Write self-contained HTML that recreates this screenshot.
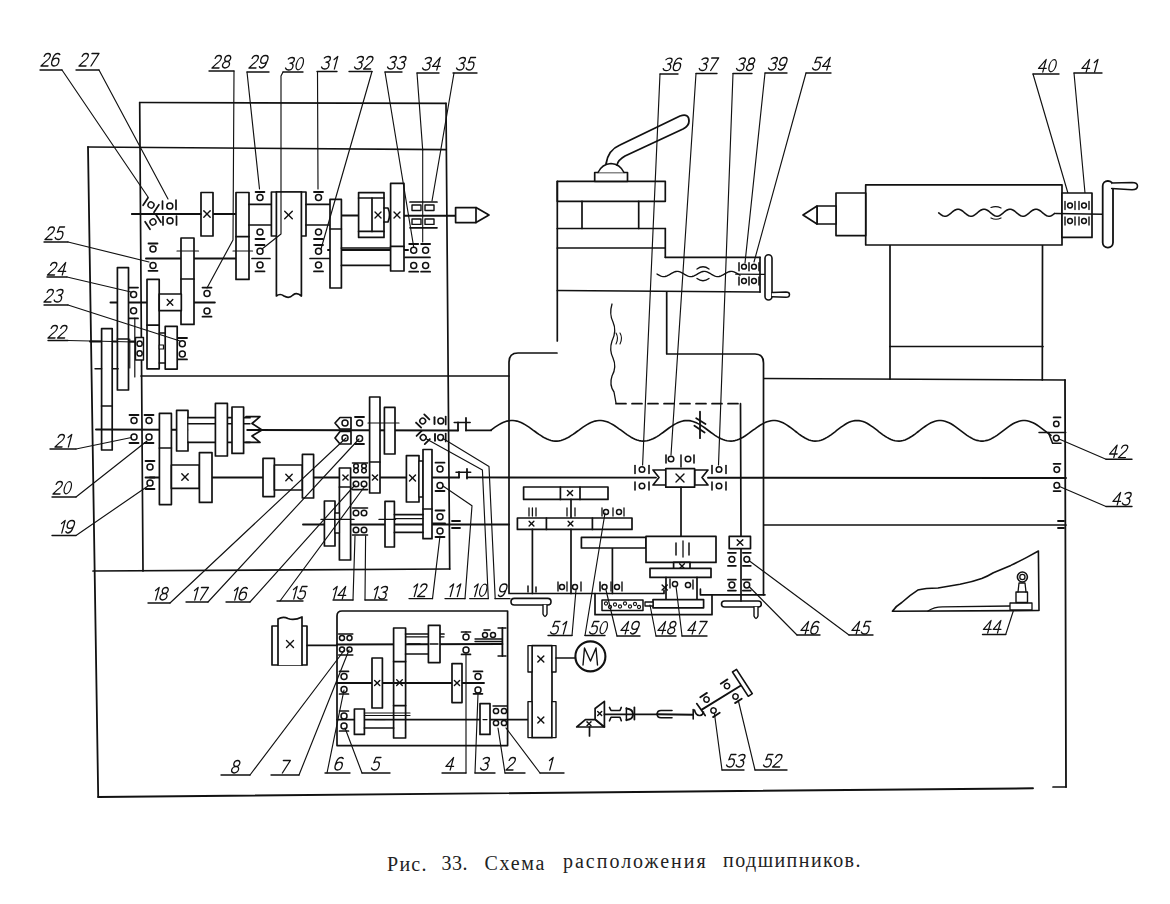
<!DOCTYPE html>
<html><head><meta charset="utf-8"><style>
html,body{margin:0;padding:0;background:#fff;}
svg{display:block;}
.lb{font-family:"Liberation Sans",sans-serif;font-style:italic;fill:#000;stroke:none;}
.cap{font-family:"Liberation Serif",serif;fill:#222;stroke:none;}
</style></head><body>
<svg width="1170" height="904" viewBox="0 0 1170 904">
<rect x="0" y="0" width="1170" height="904" fill="#fff"/>
<g stroke="#111" fill="none" stroke-linecap="round" stroke-linejoin="round">
<line x1="139.7" y1="102.5" x2="446" y2="103.3" stroke-width="1.7"/>
<line x1="139.7" y1="102.5" x2="143" y2="571" stroke-width="1.7"/>
<line x1="446" y1="103.3" x2="449.7" y2="569" stroke-width="1.7"/>
<line x1="88" y1="147" x2="446" y2="149.7" stroke-width="1.7"/>
<line x1="88" y1="147" x2="98.2" y2="797" stroke-width="1.8"/>
<line x1="98.2" y1="797" x2="1033" y2="788.3" stroke-width="1.9"/>
<line x1="1053" y1="787" x2="1066" y2="787" stroke-width="1.7"/>
<line x1="1065" y1="380" x2="1066" y2="787" stroke-width="1.8"/>
<line x1="141" y1="376" x2="509" y2="376" stroke-width="1.7"/>
<line x1="93" y1="571" x2="449.7" y2="569" stroke-width="1.7"/>
<line x1="764" y1="378.5" x2="1065" y2="380" stroke-width="1.7"/>
<line x1="764" y1="525" x2="1066" y2="525" stroke-width="1.7"/>
<line x1="132" y1="214" x2="236" y2="214" stroke-width="2.0"/>
<line x1="341" y1="215.4" x2="358.6" y2="215.4" stroke-width="2.0"/>
<line x1="404" y1="215.8" x2="455.6" y2="215.8" stroke-width="2.0"/>
<line x1="146" y1="258.5" x2="236" y2="258.5" stroke-width="2.0"/>
<line x1="328" y1="250" x2="408" y2="250" stroke-width="2"/>
<line x1="405" y1="257.4" x2="430" y2="257.4" stroke-width="1.7"/>
<line x1="110.5" y1="302.6" x2="214.8" y2="302.6" stroke-width="2.0"/>
<line x1="90" y1="341.5" x2="141" y2="341.5" stroke-width="1.9"/>
<rect x="201" y="192.5" width="12" height="43.5" stroke-width="1.7" fill="#fff"/>
<line x1="203.8" y1="210.8" x2="210.2" y2="217.2" stroke-width="1.4"/>
<line x1="203.8" y1="217.2" x2="210.2" y2="210.8" stroke-width="1.4"/>
<rect x="236" y="192.5" width="13" height="86.9" stroke-width="1.7" fill="#fff"/>
<line x1="236" y1="236.6" x2="249" y2="236.6" stroke-width="1.7"/>
<line x1="233" y1="251" x2="252.5" y2="251" stroke-width="1.2"/>
<line x1="249" y1="204.4" x2="271.4" y2="204.4" stroke-width="1.7"/>
<line x1="249" y1="225" x2="271.4" y2="225" stroke-width="1.7"/>
<rect x="271.4" y="192" width="34.6" height="44" stroke-width="1.7" fill="#fff"/>
<path d="M276.4,192 L276.4,296 Q280,293 284,296 Q289,299 293,295 Q297,292 301.4,296 L301.4,192" stroke-width="1.7" fill="#fff"/>
<line x1="276.4" y1="192" x2="301.4" y2="192" stroke-width="1.7"/>
<line x1="284.7" y1="211.2" x2="292.3" y2="218.8" stroke-width="1.4"/>
<line x1="284.7" y1="218.8" x2="292.3" y2="211.2" stroke-width="1.4"/>
<line x1="255.6" y1="192" x2="264.4" y2="192" stroke-width="1.8"/>
<circle cx="260" cy="197.4" r="3" stroke-width="1.5" fill="#fff"/>
<line x1="314" y1="192" x2="323" y2="192" stroke-width="1.8"/>
<circle cx="318.5" cy="197.4" r="3" stroke-width="1.5" fill="#fff"/>
<line x1="306" y1="204.4" x2="330" y2="204.4" stroke-width="1.7"/>
<line x1="306" y1="225" x2="330" y2="225" stroke-width="1.7"/>
<circle cx="260" cy="232" r="3" stroke-width="1.5" fill="#fff"/>
<line x1="255.5" y1="239" x2="264.5" y2="239" stroke-width="1.8"/>
<line x1="255.5" y1="245" x2="264.5" y2="245" stroke-width="1.8"/>
<circle cx="260" cy="251.2" r="3" stroke-width="1.5" fill="#fff"/>
<circle cx="260" cy="265" r="3" stroke-width="1.5" fill="#fff"/>
<line x1="255.5" y1="271.4" x2="264.5" y2="271.4" stroke-width="1.8"/>
<circle cx="318.5" cy="232" r="3" stroke-width="1.5" fill="#fff"/>
<line x1="314" y1="239" x2="323" y2="239" stroke-width="1.8"/>
<line x1="314" y1="245" x2="323" y2="245" stroke-width="1.8"/>
<circle cx="318.5" cy="251.2" r="3" stroke-width="1.5" fill="#fff"/>
<circle cx="318.5" cy="265" r="3" stroke-width="1.5" fill="#fff"/>
<line x1="314" y1="271.4" x2="323" y2="271.4" stroke-width="1.8"/>
<line x1="252" y1="258.5" x2="270" y2="258.5" stroke-width="1.7"/>
<line x1="310" y1="258.5" x2="330" y2="258.5" stroke-width="1.7"/>
<rect x="330" y="199.4" width="11.4" height="88.6" stroke-width="1.7" fill="#fff"/>
<line x1="330" y1="229" x2="341.4" y2="229" stroke-width="1.7"/>
<rect x="358.6" y="192.6" width="25.4" height="44.8" stroke-width="1.7" fill="#fff"/>
<line x1="358.6" y1="198" x2="384" y2="198" stroke-width="1.7"/>
<line x1="358.6" y1="231.4" x2="384" y2="231.4" stroke-width="1.7"/>
<line x1="372" y1="198" x2="372" y2="231.4" stroke-width="1.7"/>
<line x1="375" y1="212" x2="381" y2="218" stroke-width="1.4"/>
<line x1="375" y1="218" x2="381" y2="212" stroke-width="1.4"/>
<path d="M384,208 L388,208 Q391,215 388,222 L384,222" stroke-width="1.7" fill="none"/>
<line x1="341.4" y1="248" x2="390.6" y2="248" stroke-width="1.7"/>
<line x1="341.4" y1="265.4" x2="390.6" y2="265.4" stroke-width="1.7"/>
<rect x="390.6" y="183.4" width="13.4" height="87.6" stroke-width="1.7" fill="#fff"/>
<line x1="390.6" y1="246.4" x2="404" y2="246.4" stroke-width="1.7"/>
<line x1="394" y1="212" x2="400" y2="218" stroke-width="1.4"/>
<line x1="394" y1="218" x2="400" y2="212" stroke-width="1.4"/>
<line x1="410" y1="202" x2="437" y2="202" stroke-width="1.7"/>
<line x1="410" y1="227.8" x2="437" y2="227.8" stroke-width="1.7"/>
<rect x="412" y="205" width="9" height="5.5" stroke-width="1.4" fill="#fff"/>
<rect x="412" y="219" width="9" height="5.4" stroke-width="1.4" fill="#fff"/>
<rect x="425" y="205" width="9" height="5.5" stroke-width="1.4" fill="#fff"/>
<rect x="425" y="219" width="9" height="5.4" stroke-width="1.4" fill="#fff"/>
<line x1="422.7" y1="150" x2="422.7" y2="242" stroke-width="1.1"/>
<line x1="409.2" y1="244" x2="418.2" y2="244" stroke-width="1.8"/>
<circle cx="413.7" cy="250.2" r="3" stroke-width="1.5" fill="#fff"/>
<circle cx="413.7" cy="265.4" r="3" stroke-width="1.5" fill="#fff"/>
<line x1="409.2" y1="271.7" x2="418.2" y2="271.7" stroke-width="1.8"/>
<line x1="421.1" y1="244" x2="430.1" y2="244" stroke-width="1.8"/>
<circle cx="425.6" cy="250.2" r="3" stroke-width="1.5" fill="#fff"/>
<circle cx="425.6" cy="265.4" r="3" stroke-width="1.5" fill="#fff"/>
<line x1="421.1" y1="271.7" x2="430.1" y2="271.7" stroke-width="1.8"/>
<rect x="455.6" y="207.6" width="20.4" height="15" stroke-width="1.7" fill="#fff"/>
<polyline points="476,207.6 489,215 476,222.6" stroke-width="1.7"/>
<line x1="132" y1="214" x2="201" y2="214" stroke-width="1.7"/>
<g transform="translate(151,205) rotate(33)"><line x1="-6.5" y1="-4.5" x2="-6.5" y2="4.5" stroke-width="1.7"/><circle cx="0" cy="0" r="3" stroke-width="1.4" fill="#fff"/><line x1="6.5" y1="-4.5" x2="6.5" y2="4.5" stroke-width="1.7"/></g>
<line x1="162.5" y1="201" x2="162.5" y2="209" stroke-width="1.7"/>
<circle cx="169.8" cy="206" r="3" stroke-width="1.5" fill="#fff"/>
<line x1="176" y1="200" x2="176" y2="209.5" stroke-width="1.7"/>
<g transform="translate(153,222) rotate(-33)"><line x1="-6.5" y1="-4.5" x2="-6.5" y2="4.5" stroke-width="1.7"/><circle cx="0" cy="0" r="3" stroke-width="1.4" fill="#fff"/><line x1="6.5" y1="-4.5" x2="6.5" y2="4.5" stroke-width="1.7"/></g>
<line x1="163" y1="216.5" x2="163" y2="225" stroke-width="1.7"/>
<circle cx="170" cy="220.8" r="3" stroke-width="1.5" fill="#fff"/>
<line x1="176.5" y1="216" x2="176.5" y2="225" stroke-width="1.7"/>
<circle cx="153" cy="249" r="3" stroke-width="1.5" fill="#fff"/>
<line x1="148.5" y1="243.5" x2="157.5" y2="243.5" stroke-width="1.8"/>
<circle cx="153" cy="265.4" r="3" stroke-width="1.5" fill="#fff"/>
<line x1="148.5" y1="270.8" x2="157.5" y2="270.8" stroke-width="1.8"/>
<rect x="181" y="238" width="13" height="86.4" stroke-width="1.7" fill="#fff"/>
<line x1="181" y1="279" x2="194" y2="279" stroke-width="1.7"/>
<line x1="177" y1="251" x2="198.5" y2="251" stroke-width="1.2"/>
<rect x="117.4" y="267.6" width="11.1" height="122.4" stroke-width="1.7" fill="#fff"/>
<line x1="117.4" y1="339" x2="128.5" y2="339" stroke-width="1.7"/>
<rect x="147" y="279.4" width="12.2" height="89.4" stroke-width="1.7" fill="#fff"/>
<line x1="147" y1="325.2" x2="159.2" y2="325.2" stroke-width="1.7"/>
<rect x="159.2" y="294" width="22.1" height="16.7" stroke-width="1.7" fill="#fff"/>
<line x1="167.2" y1="299.6" x2="172.8" y2="305.2" stroke-width="1.4"/>
<line x1="167.2" y1="305.2" x2="172.8" y2="299.6" stroke-width="1.4"/>
<line x1="129" y1="287.6" x2="138" y2="287.6" stroke-width="1.8"/>
<circle cx="133.6" cy="294.4" r="3" stroke-width="1.5" fill="#fff"/>
<circle cx="133.6" cy="310.7" r="3" stroke-width="1.5" fill="#fff"/>
<line x1="129" y1="318.4" x2="138" y2="318.4" stroke-width="1.8"/>
<line x1="202.5" y1="287.6" x2="211.5" y2="287.6" stroke-width="1.8"/>
<circle cx="207" cy="293.6" r="3" stroke-width="1.5" fill="#fff"/>
<circle cx="207" cy="311" r="3" stroke-width="1.5" fill="#fff"/>
<line x1="202.5" y1="316.7" x2="211.5" y2="316.7" stroke-width="1.8"/>
<rect x="101.6" y="328.6" width="10.6" height="121.4" stroke-width="1.7" fill="#fff"/>
<line x1="101.6" y1="406" x2="112.2" y2="406" stroke-width="1.7"/>
<line x1="95" y1="368.8" x2="101.6" y2="368.8" stroke-width="1.4"/>
<line x1="112.4" y1="368.8" x2="118.2" y2="368.8" stroke-width="1.4"/>
<rect x="165.2" y="326.4" width="12" height="42.7" stroke-width="1.7" fill="#fff"/>
<line x1="159.2" y1="333" x2="165.2" y2="333" stroke-width="1.3"/>
<line x1="159.2" y1="363" x2="165.2" y2="363" stroke-width="1.3"/>
<rect x="159.2" y="345" width="4.3" height="4" stroke-width="1.2" fill="#fff"/>
<line x1="178" y1="338" x2="187" y2="338" stroke-width="1.8"/>
<circle cx="182.3" cy="343.7" r="3" stroke-width="1.5" fill="#fff"/>
<circle cx="182.3" cy="354" r="3" stroke-width="1.5" fill="#fff"/>
<line x1="178" y1="359.4" x2="187" y2="359.4" stroke-width="1.8"/>
<rect x="135.5" y="337.5" width="8" height="22.5" stroke-width="1.4" fill="#fff"/>
<circle cx="139.6" cy="343.7" r="2.6" stroke-width="1.5" fill="#fff"/>
<circle cx="139.6" cy="353.4" r="2.6" stroke-width="1.5" fill="#fff"/>
<line x1="134.8" y1="318" x2="134.8" y2="377" stroke-width="1.2"/>
<line x1="129.8" y1="339" x2="129.8" y2="368" stroke-width="1.1"/>
<line x1="96" y1="429.5" x2="458" y2="430.4" stroke-width="2.0"/>
<line x1="458" y1="422.4" x2="458" y2="430.4" stroke-width="1.8"/>
<line x1="466" y1="418" x2="466" y2="430.4" stroke-width="1.8"/>
<line x1="454.2" y1="422.4" x2="470.2" y2="422.4" stroke-width="1.5"/>
<line x1="466" y1="430.4" x2="491" y2="430.4" stroke-width="1.9"/>
<line x1="150" y1="477.5" x2="459" y2="477.4" stroke-width="2.0"/>
<line x1="459" y1="471.8" x2="459" y2="477.4" stroke-width="1.8"/>
<line x1="467" y1="469" x2="467" y2="478.5" stroke-width="1.8"/>
<line x1="456" y1="472.3" x2="470.7" y2="472.3" stroke-width="1.5"/>
<line x1="467" y1="477.4" x2="656" y2="477.6" stroke-width="1.9"/>
<line x1="303" y1="524.5" x2="509" y2="524.5" stroke-width="1.9"/>
<line x1="452" y1="521" x2="460" y2="521" stroke-width="1.8"/>
<line x1="452" y1="528" x2="460" y2="528" stroke-width="1.8"/>
<line x1="129.5" y1="415" x2="138.5" y2="415" stroke-width="1.8"/>
<circle cx="134" cy="420.5" r="3" stroke-width="1.5" fill="#fff"/>
<circle cx="134" cy="437" r="3" stroke-width="1.5" fill="#fff"/>
<line x1="129.5" y1="443" x2="138.5" y2="443" stroke-width="1.8"/>
<line x1="144.5" y1="415" x2="153.5" y2="415" stroke-width="1.8"/>
<circle cx="149" cy="420.5" r="3" stroke-width="1.5" fill="#fff"/>
<circle cx="149" cy="437" r="3" stroke-width="1.5" fill="#fff"/>
<line x1="144.5" y1="443" x2="153.5" y2="443" stroke-width="1.8"/>
<rect x="159.4" y="413.4" width="12" height="91.2" stroke-width="1.7" fill="#fff"/>
<line x1="159.4" y1="448" x2="171.4" y2="448" stroke-width="1.7"/>
<rect x="176.6" y="410.4" width="11.4" height="40.6" stroke-width="1.7" fill="#fff"/>
<rect x="188.5" y="418" width="58" height="23.5" fill="#fff" stroke="none"/>
<line x1="188" y1="417.7" x2="250" y2="417.7" stroke-width="1.7"/>
<line x1="188" y1="423.8" x2="250" y2="423.8" stroke-width="1.4"/>
<line x1="188" y1="442.3" x2="250" y2="442.3" stroke-width="1.7"/>
<rect x="215.4" y="403.4" width="12" height="52.6" stroke-width="1.7" fill="#fff"/>
<rect x="232" y="407" width="11.6" height="46.4" stroke-width="1.7" fill="#fff"/>
<polyline points="246,416.6 260,416.6 252,423.5 262,430 252,436 260,442.4 246,442.4" stroke-width="1.7"/>
<line x1="145.5" y1="461" x2="154.5" y2="461" stroke-width="1.8"/>
<circle cx="150" cy="467" r="3" stroke-width="1.5" fill="#fff"/>
<line x1="145.5" y1="477.5" x2="154.5" y2="477.5" stroke-width="1.8"/>
<circle cx="150" cy="483" r="3" stroke-width="1.5" fill="#fff"/>
<line x1="145.5" y1="489" x2="154.5" y2="489" stroke-width="1.8"/>
<rect x="171.4" y="465" width="28" height="23.4" stroke-width="1.7" fill="#fff"/>
<line x1="181.8" y1="473.8" x2="188.2" y2="480.2" stroke-width="1.4"/>
<line x1="181.8" y1="480.2" x2="188.2" y2="473.8" stroke-width="1.4"/>
<rect x="199.4" y="452.6" width="12.6" height="49.8" stroke-width="1.7" fill="#fff"/>
<rect x="263" y="458.4" width="11.4" height="38.2" stroke-width="1.7" fill="#fff"/>
<rect x="274.4" y="465" width="28" height="25" stroke-width="1.7" fill="#fff"/>
<line x1="285.8" y1="474.3" x2="292.2" y2="480.7" stroke-width="1.4"/>
<line x1="285.8" y1="480.7" x2="292.2" y2="474.3" stroke-width="1.4"/>
<rect x="302.4" y="454.4" width="11.2" height="43.6" stroke-width="1.7" fill="#fff"/>
<rect x="339.4" y="468" width="11.2" height="92" stroke-width="1.7" fill="#fff"/>
<line x1="339.4" y1="487" x2="350.6" y2="487" stroke-width="1.7"/>
<line x1="342.9" y1="474.9" x2="348.1" y2="480.1" stroke-width="1.4"/>
<line x1="342.9" y1="480.1" x2="348.1" y2="474.9" stroke-width="1.4"/>
<rect x="369.6" y="397" width="10.4" height="96" stroke-width="1.7" fill="#fff"/>
<line x1="369.6" y1="462" x2="380" y2="462" stroke-width="1.7"/>
<line x1="372.4" y1="474.9" x2="377.6" y2="480.1" stroke-width="1.4"/>
<line x1="372.4" y1="480.1" x2="377.6" y2="474.9" stroke-width="1.4"/>
<rect x="384.4" y="407.4" width="10.6" height="46.6" stroke-width="1.7" fill="#fff"/>
<line x1="368" y1="423" x2="399" y2="423" stroke-width="1.2"/>
<rect x="406.4" y="455.6" width="12.6" height="46.4" stroke-width="1.7" fill="#fff"/>
<line x1="409.5" y1="475" x2="415.5" y2="481" stroke-width="1.4"/>
<line x1="409.5" y1="481" x2="415.5" y2="475" stroke-width="1.4"/>
<rect x="419" y="461" width="4" height="36" stroke-width="1.3" fill="#fff"/>
<rect x="423" y="449.5" width="9" height="89.2" stroke-width="1.7" fill="#fff"/>
<line x1="423" y1="509" x2="432" y2="509" stroke-width="1.7"/>
<polygon points="335,423 340,417.5 351,417.5 351,429 340,429" stroke-width="1.7" fill="#fff"/>
<polygon points="335,438 340,431.5 351,431.5 351,444 340,444" stroke-width="1.7" fill="#fff"/>
<circle cx="345" cy="423" r="3" stroke-width="1.5" fill="#fff"/>
<circle cx="345" cy="438" r="3" stroke-width="1.5" fill="#fff"/>
<line x1="355" y1="417" x2="364" y2="417" stroke-width="1.8"/>
<circle cx="359.6" cy="423" r="3" stroke-width="1.5" fill="#fff"/>
<circle cx="359.6" cy="438.4" r="3" stroke-width="1.5" fill="#fff"/>
<line x1="355" y1="444" x2="364" y2="444" stroke-width="1.8"/>
<g transform="translate(422.7,421) rotate(-45)"><line x1="-5.8" y1="-3.6" x2="-5.8" y2="3.6" stroke-width="1.8"/><circle cx="0" cy="0" r="2.9" stroke-width="1.5" fill="#fff"/><line x1="5.8" y1="-3.6" x2="5.8" y2="3.6" stroke-width="1.8"/></g>
<g transform="translate(423.2,437.5) rotate(45)"><line x1="-5.8" y1="-3.6" x2="-5.8" y2="3.6" stroke-width="1.8"/><circle cx="0" cy="0" r="2.9" stroke-width="1.5" fill="#fff"/><line x1="5.8" y1="-3.6" x2="5.8" y2="3.6" stroke-width="1.8"/></g>
<line x1="434.5" y1="417.2" x2="434.5" y2="424" stroke-width="1.9"/>
<circle cx="440.8" cy="421" r="2.9" stroke-width="1.5" fill="#fff"/>
<line x1="445.7" y1="416.5" x2="445.7" y2="424.5" stroke-width="1.7"/>
<line x1="435" y1="434" x2="435" y2="440.7" stroke-width="1.9"/>
<circle cx="440.6" cy="437.5" r="2.9" stroke-width="1.5" fill="#fff"/>
<line x1="445.7" y1="433.5" x2="445.7" y2="441.5" stroke-width="1.7"/>
<line x1="352.5" y1="463" x2="359.5" y2="463" stroke-width="1.6"/>
<circle cx="356" cy="466" r="2.3" stroke-width="1.5" fill="#fff"/>
<circle cx="356" cy="470.6" r="2.3" stroke-width="1.5" fill="#fff"/>
<circle cx="356" cy="484" r="2.8" stroke-width="1.5" fill="#fff"/>
<line x1="352.5" y1="489.6" x2="359.5" y2="489.6" stroke-width="1.6"/>
<line x1="352.5" y1="508" x2="359.5" y2="508" stroke-width="1.6"/>
<circle cx="356" cy="513" r="2.8" stroke-width="1.5" fill="#fff"/>
<circle cx="356" cy="530" r="2.8" stroke-width="1.5" fill="#fff"/>
<line x1="352.5" y1="535" x2="359.5" y2="535" stroke-width="1.6"/>
<line x1="360.5" y1="463" x2="367.5" y2="463" stroke-width="1.6"/>
<circle cx="364" cy="466" r="2.3" stroke-width="1.5" fill="#fff"/>
<circle cx="364" cy="470.6" r="2.3" stroke-width="1.5" fill="#fff"/>
<circle cx="364" cy="484" r="2.8" stroke-width="1.5" fill="#fff"/>
<line x1="360.5" y1="489.6" x2="367.5" y2="489.6" stroke-width="1.6"/>
<line x1="360.5" y1="508" x2="367.5" y2="508" stroke-width="1.6"/>
<circle cx="364" cy="513" r="2.8" stroke-width="1.5" fill="#fff"/>
<circle cx="364" cy="530" r="2.8" stroke-width="1.5" fill="#fff"/>
<line x1="360.5" y1="535" x2="367.5" y2="535" stroke-width="1.6"/>
<rect x="324.4" y="501" width="10.6" height="45" stroke-width="1.7" fill="#fff"/>
<rect x="335" y="513" width="4.4" height="20" stroke-width="1.3" fill="#fff"/>
<rect x="385" y="501.4" width="9.4" height="45.6" stroke-width="1.7" fill="#fff"/>
<line x1="394.4" y1="514.6" x2="423" y2="514.6" stroke-width="1.7"/>
<line x1="394.4" y1="518.7" x2="423" y2="518.7" stroke-width="1.3"/>
<line x1="394.4" y1="532.4" x2="423" y2="532.4" stroke-width="1.7"/>
<line x1="321" y1="519.4" x2="354" y2="519.4" stroke-width="1.4"/>
<line x1="379" y1="519.4" x2="395.5" y2="519.4" stroke-width="1.4"/>
<line x1="435.5" y1="462.7" x2="444.5" y2="462.7" stroke-width="1.8"/>
<circle cx="440" cy="469" r="3" stroke-width="1.5" fill="#fff"/>
<circle cx="440" cy="485.5" r="3" stroke-width="1.5" fill="#fff"/>
<line x1="435.5" y1="491" x2="444.5" y2="491" stroke-width="1.8"/>
<line x1="435.5" y1="510.5" x2="444.5" y2="510.5" stroke-width="1.8"/>
<circle cx="440" cy="516.7" r="3" stroke-width="1.5" fill="#fff"/>
<line x1="433" y1="523.5" x2="445" y2="523.5" stroke-width="2"/>
<circle cx="440" cy="531" r="3" stroke-width="1.5" fill="#fff"/>
<line x1="435.5" y1="537" x2="444.5" y2="537" stroke-width="1.8"/>
<path d="M337,745.6 L337,616 Q337,611 342,611 L507.6,611 L507.6,745.6 Z" stroke-width="1.7" fill="none"/>
<rect x="272" y="626" width="35" height="39" stroke-width="1.7" fill="#fff"/>
<path d="M278,665 L278,619 Q283,616 288,618.5 Q294,621 302,617 L302,665" stroke-width="1.7" fill="#fff"/>
<line x1="286.5" y1="640.5" x2="293.5" y2="647.5" stroke-width="1.4"/>
<line x1="286.5" y1="647.5" x2="293.5" y2="640.5" stroke-width="1.4"/>
<line x1="307" y1="645.4" x2="337" y2="645.4" stroke-width="1.7"/>
<line x1="337" y1="644.5" x2="502.4" y2="644" stroke-width="1.9"/>
<line x1="502.4" y1="628" x2="502.4" y2="656" stroke-width="1.8"/>
<line x1="498" y1="628" x2="506" y2="628" stroke-width="1.4"/>
<line x1="498" y1="656" x2="506" y2="656" stroke-width="1.4"/>
<line x1="338.7" y1="634" x2="345.3" y2="634" stroke-width="1.6"/>
<circle cx="342" cy="638" r="2.5" stroke-width="1.5" fill="#fff"/>
<circle cx="342" cy="649.6" r="2.5" stroke-width="1.5" fill="#fff"/>
<line x1="338.7" y1="655" x2="345.3" y2="655" stroke-width="1.6"/>
<line x1="346.2" y1="634" x2="352.8" y2="634" stroke-width="1.6"/>
<circle cx="349.5" cy="638" r="2.5" stroke-width="1.5" fill="#fff"/>
<circle cx="349.5" cy="649.6" r="2.5" stroke-width="1.5" fill="#fff"/>
<line x1="346.2" y1="655" x2="352.8" y2="655" stroke-width="1.6"/>
<rect x="393.6" y="628" width="12" height="110" stroke-width="1.7" fill="#fff"/>
<line x1="393.6" y1="661.6" x2="405.6" y2="661.6" stroke-width="1.7"/>
<line x1="393.6" y1="705.6" x2="405.6" y2="705.6" stroke-width="1.7"/>
<line x1="396.7" y1="679.8" x2="402.3" y2="685.4" stroke-width="1.4"/>
<line x1="396.7" y1="685.4" x2="402.3" y2="679.8" stroke-width="1.4"/>
<line x1="405.6" y1="634" x2="444" y2="634" stroke-width="1.7"/>
<line x1="405.6" y1="636.8" x2="444" y2="636.8" stroke-width="1.2"/>
<line x1="405.6" y1="654" x2="428.4" y2="654" stroke-width="1.7"/>
<rect x="428.4" y="625.4" width="11.6" height="37.2" stroke-width="1.7" fill="#fff"/>
<line x1="408" y1="644" x2="420" y2="644" stroke-width="1.3"/>
<line x1="430" y1="644" x2="438" y2="644" stroke-width="1.3"/>
<line x1="466" y1="632" x2="466" y2="632" stroke-width="1.7"/>
<line x1="461.5" y1="632" x2="470.5" y2="632" stroke-width="1.7"/>
<circle cx="466" cy="637" r="3" stroke-width="1.5" fill="#fff"/>
<circle cx="466" cy="650" r="3" stroke-width="1.5" fill="#fff"/>
<line x1="461.5" y1="654.4" x2="470.5" y2="654.4" stroke-width="1.7"/>
<circle cx="485" cy="635" r="2.5" stroke-width="1.5" fill="#fff"/>
<circle cx="493" cy="635" r="2.5" stroke-width="1.5" fill="#fff"/>
<line x1="475" y1="639" x2="502" y2="639" stroke-width="1.3"/>
<line x1="475" y1="641.5" x2="502" y2="641.5" stroke-width="1.3"/>
<line x1="484" y1="630" x2="490" y2="630" stroke-width="1.5"/>
<line x1="337" y1="683" x2="484" y2="683" stroke-width="1.9"/>
<rect x="372" y="658" width="10.4" height="50" stroke-width="1.7" fill="#fff"/>
<line x1="374.6" y1="680.4" x2="379.8" y2="685.6" stroke-width="1.4"/>
<line x1="374.6" y1="685.6" x2="379.8" y2="680.4" stroke-width="1.4"/>
<rect x="452" y="663.6" width="10" height="39" stroke-width="1.7" fill="#fff"/>
<line x1="454.4" y1="680.4" x2="459.6" y2="685.6" stroke-width="1.4"/>
<line x1="454.4" y1="685.6" x2="459.6" y2="680.4" stroke-width="1.4"/>
<line x1="339.5" y1="671.4" x2="348.5" y2="671.4" stroke-width="1.7"/>
<circle cx="344" cy="676.6" r="3" stroke-width="1.5" fill="#fff"/>
<circle cx="344" cy="689.5" r="3" stroke-width="1.5" fill="#fff"/>
<line x1="339.5" y1="694" x2="348.5" y2="694" stroke-width="1.7"/>
<line x1="473.5" y1="671.4" x2="482.5" y2="671.4" stroke-width="1.7"/>
<circle cx="478" cy="676.4" r="3" stroke-width="1.5" fill="#fff"/>
<circle cx="478" cy="690" r="3" stroke-width="1.5" fill="#fff"/>
<line x1="473.5" y1="693.8" x2="482.5" y2="693.8" stroke-width="1.7"/>
<line x1="337" y1="719.6" x2="528" y2="719.6" stroke-width="1.9"/>
<rect x="354.4" y="709" width="10" height="25.4" stroke-width="1.7" fill="#fff"/>
<line x1="364.4" y1="713" x2="410" y2="713" stroke-width="1.2"/>
<line x1="364.4" y1="715.5" x2="410" y2="715.5" stroke-width="1.2"/>
<line x1="364.4" y1="728" x2="393.6" y2="728" stroke-width="1.7"/>
<line x1="375" y1="719.6" x2="385" y2="719.6" stroke-width="1"/>
<rect x="480" y="703.6" width="10" height="30.8" stroke-width="1.7" fill="#fff"/>
<line x1="483" y1="719.6" x2="487" y2="719.6" stroke-width="1.2"/>
<circle cx="496" cy="711" r="2.6" stroke-width="1.5" fill="#fff"/>
<circle cx="504" cy="711" r="2.6" stroke-width="1.5" fill="#fff"/>
<circle cx="496" cy="723" r="2.6" stroke-width="1.5" fill="#fff"/>
<circle cx="504" cy="723" r="2.6" stroke-width="1.5" fill="#fff"/>
<line x1="493" y1="706" x2="507" y2="706" stroke-width="1.3"/>
<line x1="339.5" y1="711" x2="348.5" y2="711" stroke-width="1.7"/>
<circle cx="344" cy="716" r="3" stroke-width="1.5" fill="#fff"/>
<circle cx="344" cy="726" r="3" stroke-width="1.5" fill="#fff"/>
<line x1="339.5" y1="731" x2="348.5" y2="731" stroke-width="1.7"/>
<rect x="532" y="645.6" width="20" height="92" stroke-width="1.7" fill="#fff"/>
<rect x="528" y="645.6" width="4" height="26.4" stroke-width="1.4" fill="#fff"/>
<rect x="552" y="645.6" width="4" height="26.4" stroke-width="1.4" fill="#fff"/>
<rect x="528" y="701.6" width="4" height="36" stroke-width="1.4" fill="#fff"/>
<rect x="552" y="701.6" width="4" height="36" stroke-width="1.4" fill="#fff"/>
<line x1="537.8" y1="656" x2="543.8" y2="662" stroke-width="1.4"/>
<line x1="537.8" y1="662" x2="543.8" y2="656" stroke-width="1.4"/>
<line x1="537.8" y1="717" x2="543.8" y2="723" stroke-width="1.4"/>
<line x1="537.8" y1="723" x2="543.8" y2="717" stroke-width="1.4"/>
<line x1="556" y1="658" x2="575.4" y2="658" stroke-width="1.7"/>
<circle cx="590.4" cy="656.4" r="15" stroke-width="2.1" fill="#fff"/>
<path d="M583,665 L584.5,648 L590.5,661 L596,648 L597.5,665" stroke-width="1.4" fill="none"/>
<g transform="translate(230.7,773) skewX(-15)" stroke-width="1.3" fill="none"><g transform="translate(0,0)"><ellipse cx="3.6" cy="-9.45" rx="2.9" ry="3.05"/><ellipse cx="3.5" cy="-3.3" rx="3.4" ry="3.3"/></g></g>
<line x1="221" y1="775" x2="250" y2="775" stroke-width="1.4"/>
<polyline points="250,775 344.5,650" stroke-width="1.15"/>
<g transform="translate(280,773) skewX(-15)" stroke-width="1.3" fill="none"><g transform="translate(0,0)"><path d="M0,-12.5 L7,-12.5 L2.4,0"/></g></g>
<line x1="271" y1="775" x2="299" y2="775" stroke-width="1.4"/>
<polyline points="299,775 349,650" stroke-width="1.15"/>
<g transform="translate(334,770) skewX(-15)" stroke-width="1.3" fill="none"><g transform="translate(0,0)"><path d="M6.2,-11.4 Q5.2,-12.5 3.6,-12.5 Q0,-12.5 0,-5 Q0,0 3.5,0 Q7,0 7,-4 Q7,-7.8 3.6,-7.8 Q0.6,-7.8 0,-4.6"/></g></g>
<line x1="325" y1="773" x2="350" y2="773" stroke-width="1.4"/>
<polyline points="327,773 344,690" stroke-width="1.15"/>
<g transform="translate(371,770) skewX(-15)" stroke-width="1.3" fill="none"><g transform="translate(0,0)"><path d="M6.6,-12.5 L1.6,-12.5 L0.9,-7.2 Q2.2,-8.1 3.8,-8.1 Q7,-8.1 7,-4 Q7,0 3.5,0 Q1,0 0,-2"/></g></g>
<line x1="362" y1="773" x2="390" y2="773" stroke-width="1.4"/>
<polyline points="362,773 345,728" stroke-width="1.15"/>
<g transform="translate(445,770) skewX(-15)" stroke-width="1.3" fill="none"><g transform="translate(0,0)"><path d="M5.2,0 L5.2,-12.5 L0,-3.6 L7.6,-3.6"/></g></g>
<line x1="442" y1="773" x2="466" y2="773" stroke-width="1.4"/>
<polyline points="466,773 466,654" stroke-width="1.15"/>
<g transform="translate(480,770) skewX(-15)" stroke-width="1.3" fill="none"><g transform="translate(0,0)"><path d="M0.4,-11 Q1.5,-12.5 3.6,-12.5 Q6.6,-12.5 6.6,-9.8 Q6.6,-7 3.2,-6.8 Q7,-6.6 7,-3.3 Q7,0 3.5,0 Q1,0 0,-2"/></g></g>
<line x1="475" y1="773" x2="495" y2="773" stroke-width="1.4"/>
<polyline points="475,773 478,694" stroke-width="1.15"/>
<g transform="translate(506,770) skewX(-15)" stroke-width="1.3" fill="none"><g transform="translate(0,0)"><path d="M0.6,-9.6 Q1,-12.5 3.6,-12.5 Q6.6,-12.5 6.6,-9.6 Q6.6,-7.2 3.6,-4.6 L0,0 L7,0"/></g></g>
<line x1="505" y1="773" x2="525" y2="773" stroke-width="1.4"/>
<polyline points="505,773 498,728" stroke-width="1.15"/>
<g transform="translate(546,770) skewX(-15)" stroke-width="1.3" fill="none"><g transform="translate(0,0)"><path d="M1,-9.5 L3.8,-12.5 L3.8,0"/></g></g>
<line x1="540" y1="773" x2="564" y2="773" stroke-width="1.4"/>
<polyline points="540,773 506,728" stroke-width="1.15"/>
<polygon points="576.7,727 585.4,719.7 595.1,719.7 604.4,727" stroke-width="1.7" fill="#fff"/>
<polygon points="595.1,708.5 604.4,701.3 604.4,727 595.1,719.2" stroke-width="1.7" fill="#fff"/>
<line x1="597.7" y1="711.6" x2="601.7" y2="715.6" stroke-width="1.4"/>
<line x1="597.7" y1="715.6" x2="601.7" y2="711.6" stroke-width="1.4"/>
<line x1="587" y1="721.8" x2="591" y2="725.8" stroke-width="1.4"/>
<line x1="587" y1="725.8" x2="591" y2="721.8" stroke-width="1.4"/>
<line x1="589.5" y1="727" x2="589.5" y2="736" stroke-width="1.7"/>
<line x1="604.4" y1="714.3" x2="657" y2="714.3" stroke-width="1.7"/>
<polyline points="609.5,707.4 611,710.5 620,710.5 621.3,707.4" stroke-width="1.6"/>
<polyline points="609.5,720.8 611,717.2 620,717.2 621.3,720.8" stroke-width="1.6"/>
<path d="M626.4,708.5 Q633,709 633,714.3 Q633,719.5 626.4,720" stroke-width="1.8" fill="none"/>
<line x1="626.4" y1="708" x2="626.4" y2="720.5" stroke-width="1.5"/>
<line x1="634.4" y1="707.5" x2="634.4" y2="719.5" stroke-width="1.8"/>
<line x1="657" y1="714.3" x2="693.2" y2="714.7" stroke-width="1.9"/>
<path d="M672,710.5 L661,710.5 Q657.2,710.5 657.2,714 Q657.2,717.7 661,717.7 L672,717.7" stroke-width="1.6" fill="none"/>
<line x1="693.2" y1="709.6" x2="693.2" y2="719" stroke-width="1.6"/>
<path d="M694.5,710 Q696,716 700,715.5 Q703,715 703.5,712" stroke-width="1.6" fill="none"/>
<line x1="696.7" y1="703.6" x2="705.2" y2="715.6" stroke-width="1.7"/>
<line x1="701.8" y1="709.6" x2="745" y2="683" stroke-width="1.9"/>
<rect x="-2.4" y="-14.5" width="4.8" height="29" transform="translate(742.4,682.8) rotate(-33)" stroke-width="1.6" fill="#fff"/>
<g transform="translate(706.5,699.5) rotate(-33)"><circle cx="0" cy="0" r="2.7" stroke-width="1.5" fill="#fff"/><line x1="-4" y1="-5.3" x2="4" y2="-5.3" stroke-width="1.8"/></g>
<g transform="translate(727,686) rotate(-33)"><circle cx="0" cy="0" r="2.7" stroke-width="1.5" fill="#fff"/><line x1="-4" y1="-5.3" x2="4" y2="-5.3" stroke-width="1.8"/></g>
<g transform="translate(713.5,710.5) rotate(-33)"><circle cx="0" cy="0" r="2.7" stroke-width="1.5" fill="#fff"/><line x1="-4" y1="5.3" x2="4" y2="5.3" stroke-width="1.8"/></g>
<g transform="translate(735.5,696.5) rotate(-33)"><circle cx="0" cy="0" r="2.7" stroke-width="1.5" fill="#fff"/><line x1="-4" y1="5.3" x2="4" y2="5.3" stroke-width="1.8"/></g>
<g transform="translate(726,767) skewX(-15)" stroke-width="1.3" fill="none"><g transform="translate(0,0)"><path d="M6.6,-12.5 L1.6,-12.5 L0.9,-7.2 Q2.2,-8.1 3.8,-8.1 Q7,-8.1 7,-4 Q7,0 3.5,0 Q1,0 0,-2"/></g><g transform="translate(9.6,0)"><path d="M0.4,-11 Q1.5,-12.5 3.6,-12.5 Q6.6,-12.5 6.6,-9.8 Q6.6,-7 3.2,-6.8 Q7,-6.6 7,-3.3 Q7,0 3.5,0 Q1,0 0,-2"/></g></g>
<line x1="722" y1="770" x2="744" y2="770" stroke-width="1.4"/>
<polyline points="722,770 714.5,714" stroke-width="1.15"/>
<g transform="translate(763,767) skewX(-15)" stroke-width="1.3" fill="none"><g transform="translate(0,0)"><path d="M6.6,-12.5 L1.6,-12.5 L0.9,-7.2 Q2.2,-8.1 3.8,-8.1 Q7,-8.1 7,-4 Q7,0 3.5,0 Q1,0 0,-2"/></g><g transform="translate(9.6,0)"><path d="M0.6,-9.6 Q1,-12.5 3.6,-12.5 Q6.6,-12.5 6.6,-9.6 Q6.6,-7.2 3.6,-4.6 L0,0 L7,0"/></g></g>
<line x1="755" y1="770" x2="787" y2="770" stroke-width="1.4"/>
<polyline points="755,770 738.3,700.5" stroke-width="1.15"/>
<rect x="557.3" y="181.3" width="108" height="20" stroke-width="1.7" fill="#fff"/>
<rect x="594.7" y="172.5" width="32.8" height="8.8" stroke-width="1.7" fill="#fff"/>
<path d="M598,172.5 Q602,164 611,163.5 Q620,164 624,172.5" stroke-width="1.5" fill="#fff"/>
<path d="M606,164 Q608,150 620,145 L680,116 Q689,113 689,121 Q689,126 683,129 L625,156 Q618,160 617,165" stroke-width="1.8" fill="none"/>
<line x1="582" y1="201.3" x2="582" y2="228.5" stroke-width="1.7"/>
<line x1="638.7" y1="201.3" x2="638.7" y2="228.5" stroke-width="1.7"/>
<line x1="557.3" y1="228.5" x2="665.3" y2="228.5" stroke-width="1.7"/>
<line x1="557.3" y1="248" x2="665.3" y2="248" stroke-width="1.7"/>
<line x1="665.3" y1="228.5" x2="665.3" y2="257.3" stroke-width="1.7"/>
<line x1="665.3" y1="257.3" x2="760" y2="257.3" stroke-width="1.7"/>
<line x1="760" y1="257.3" x2="760" y2="292" stroke-width="1.7"/>
<line x1="557.3" y1="290.5" x2="760" y2="292" stroke-width="1.7"/>
<line x1="557.3" y1="181.3" x2="557.3" y2="341" stroke-width="1.7"/>
<polyline points="657,274 658,274.6 659,275.2 660,275.7 661,276.1 662,276.4 663,276.6 664,276.6 665,276.5 666,276.3 667,275.9 668,275.4 669,274.9 670,274.3 671,273.7 672,273.1 673,272.6 674,272.1 675,271.7 676,271.5 677,271.4 678,271.4 679,271.6 680,271.9 681,272.3 682,272.8 683,273.4 684,274 685,274.6 686,275.2 687,275.7 688,276.1 689,276.4 690,276.6 691,276.6 692,276.5 693,276.3 694,275.9 695,275.4 696,274.9 697,274.3 698,273.7 699,273.1 700,272.6 701,272.1 702,271.7 703,271.5 704,271.4 705,271.4 706,271.6 707,271.9 708,272.3 709,272.8 710,273.4 711,274 712,274.6 713,275.2 714,275.7 715,276.1 716,276.4 717,276.6 718,276.6 719,276.5 720,276.3 721,275.9 722,275.4 723,274.9 724,274.3 725,273.7 726,273.1 727,272.6 728,272.1 729,271.7 730,271.5 731,271.4 732,271.4 733,271.6 734,271.9 735,272.3 736,272.8 737,273.4 738,274 739,274.6 740,275.2" stroke-width="1.4"/>
<path d="M697,269 Q703,264.5 709,269" stroke-width="1.3" fill="none"/>
<path d="M697,278.5 Q703,283 709,278.5" stroke-width="1.3" fill="none"/>
<line x1="735.8" y1="274.2" x2="765" y2="274.4" stroke-width="1.3"/>
<line x1="739" y1="262.7" x2="739" y2="270.7" stroke-width="1.5"/>
<circle cx="744" cy="266.7" r="2.4" stroke-width="1.5" fill="#fff"/>
<line x1="749" y1="262.7" x2="749" y2="270.7" stroke-width="1.5"/>
<circle cx="754" cy="266.7" r="2.4" stroke-width="1.5" fill="#fff"/>
<line x1="759" y1="262.7" x2="759" y2="270.7" stroke-width="1.5"/>
<line x1="739" y1="277" x2="739" y2="285" stroke-width="1.5"/>
<circle cx="744" cy="281" r="2.4" stroke-width="1.5" fill="#fff"/>
<line x1="749" y1="277" x2="749" y2="285" stroke-width="1.5"/>
<circle cx="754" cy="281" r="2.4" stroke-width="1.5" fill="#fff"/>
<line x1="759" y1="277" x2="759" y2="285" stroke-width="1.5"/>
<rect x="765" y="254.7" width="7" height="45.3" stroke-width="1.6" fill="#fff" rx="3.5"/>
<path d="M772,292.5 L786,292 Q789.5,292 789.5,294.5 Q789.5,297.3 786,297.3 L772,296.8" stroke-width="1.5" fill="#fff"/>
<path d="M666.7,292 L666.7,354 L755,354 Q763.5,354 763.5,363 L763.5,594.8" stroke-width="1.7" fill="none"/>
<path d="M557,353 L518,353 Q509,353 509,362 L509,593.5 L664,593.5 L664,590" stroke-width="1.7" fill="none"/>
<path d="M700.4,589 L700.4,594.8 L765,594.8" stroke-width="1.7" fill="none"/>
<path d="M612,304 Q609,314 613,322 Q617,331 612,341 Q609,350 613,358 Q617,367 612,376 Q609,385 614,392 L616,403" stroke-width="1.3" fill="none"/>
<path d="M616,333 Q619,338 616,344" stroke-width="1.1" fill="none"/>
<path d="M620,333 Q623,338 620,344" stroke-width="1.1" fill="none"/>
<path d="M616,403.7 L740,403.7" stroke-width="1.7" fill="none" stroke-dasharray="10,6"/>
<line x1="740.5" y1="403.7" x2="741" y2="536.4" stroke-width="1.7"/>
<polyline points="491,430.1 493,428.6 495,427.2 497,425.9 499,424.6 501,423.5 503,422.6 505,421.8 507,421.1 509,420.7 511,420.5 513,420.5 515,420.7 517,421.1 519,421.8 521,422.6 523,423.5 525,424.6 527,425.9 529,427.2 531,428.6 533,430.1 535,431.5 537,433 539,434.4 541,435.7 543,437 545,438.1 547,439 549,439.8 551,440.5 553,440.9 555,441.1 557,441.1 559,440.9 561,440.5 563,439.8 565,439 567,438.1 569,437 571,435.7 573,434.4 575,433 577,431.5 579,430.1 581,428.6 583,427.2 585,425.9 587,424.6 589,423.5 591,422.6 593,421.8 595,421.1 597,420.7 599,420.5 601,420.5 603,420.7 605,421.2 607,421.8 609,422.6 611,423.6 613,424.7 615,426 617,427.3 619,428.8 621,430.2 623,431.7 625,433.2 627,434.6 629,435.9 631,437.2 633,438.3 635,439.2 637,440 639,440.6 641,440.9 643,441.1 645,441 647,440.8 649,440.3 651,439.6 653,438.8 655,437.7 657,436.6 659,435.3 661,433.9 663,432.5 665,431 667,429.5 669,428 671,426.6 673,425.3 675,424.1 677,423.1 679,422.2 681,421.5 683,420.9 685,420.6 687,420.5 689,420.6 691,420.9 693,421.5 695,422.2 697,423.1 699,424.1 701,425.3 703,426.6 705,428 707,429.5 709,431 711,432.5 713,433.9 715,435.3 717,436.6 719,437.7 721,438.8 723,439.6 725,440.3 727,440.8 729,441 731,441.1 733,440.9 735,440.6 737,440 739,439.2 741,438.3 743,437.2 745,436 747,434.6 749,433.2 751,431.7 753,430.2 755,428.8 757,427.3 759,426 761,424.7 763,423.6 765,422.6 767,421.8 769,421.2 771,420.7 773,420.5 775,420.5 777,420.8 779,421.2 781,421.9 783,422.8 785,423.9 787,425.1 789,426.5 791,427.9 793,429.4 795,431 797,432.5 799,434.1 801,435.5 803,436.8 805,438 807,439 809,439.9 811,440.5 813,440.9 815,441.1 817,441 819,440.7 821,440.2 823,439.5 825,438.5 827,437.4 829,436.2 831,434.8 833,433.3 835,431.8 837,430.2 839,428.7 841,427.2 843,425.8 845,424.5 847,423.3 849,422.3 851,421.5 853,421 855,420.6 857,420.5 859,420.6 861,421 863,421.5 865,422.3 867,423.3 869,424.5 871,425.8 873,427.2 875,428.7 877,430.2 879,431.8 881,433.3 883,434.8 885,436.2 887,437.4 889,438.5 891,439.5 893,440.2 895,440.7 897,441 899,441.1 901,440.9 903,440.5 905,439.9 907,439 909,438 911,436.8 913,435.5 915,434.1 917,432.5 919,431 921,429.4 923,427.9 925,426.5 927,425.1 929,423.9 931,422.8 933,421.9 935,421.2 937,420.8 939,420.5 941,420.5 943,420.8 945,421.2 947,421.9 949,422.7 951,423.8 953,425 955,426.3 957,427.8 959,429.3 961,430.8 963,432.3 965,433.8 967,435.3 969,436.6 971,437.8 973,438.9 975,439.7 977,440.4 979,440.8 981,441.1 983,441.1 985,440.8 987,440.4 989,439.7 991,438.9 993,437.8 995,436.6 997,435.3 999,433.8 1001,432.3 1003,430.8 1005,429.3 1007,427.8 1009,426.3 1011,425 1013,423.8 1015,422.7 1017,421.9 1019,421.2 1021,420.8 1023,420.5 1025,420.5 1027,420.8 1029,421.2 1031,421.9 1033,422.7 1035,423.8 1037,425 1039,426.3 1041,427.8 1043,429.3 1045,430.8 1047,432.3 1049,433.8 1051,435.3" stroke-width="1.6"/>
<line x1="700" y1="411.7" x2="700" y2="438.2" stroke-width="1.8"/>
<line x1="696.2" y1="418.3" x2="705.5" y2="424" stroke-width="1.8"/>
<line x1="694.4" y1="425.8" x2="704.6" y2="432.5" stroke-width="1.8"/>
<polygon points="653,470 666,470 666,485 653,485 659,477.5" stroke-width="1.7" fill="#fff"/>
<polygon points="694.6,470 708,470 702,477.5 708,485 694.6,485" stroke-width="1.7" fill="#fff"/>
<rect x="665.8" y="468.7" width="28.8" height="18.5" stroke-width="1.7" fill="#fff"/>
<line x1="676" y1="474" x2="684" y2="482" stroke-width="1.4"/>
<line x1="676" y1="482" x2="684" y2="474" stroke-width="1.4"/>
<line x1="708" y1="477.7" x2="1066" y2="478" stroke-width="1.9"/>
<line x1="681" y1="487.2" x2="681" y2="536.4" stroke-width="1.7"/>
<line x1="635" y1="465.5" x2="635" y2="473.5" stroke-width="1.6"/>
<circle cx="642" cy="469.5" r="2.8" stroke-width="1.5" fill="#fff"/>
<line x1="649" y1="465.5" x2="649" y2="473.5" stroke-width="1.6"/>
<line x1="635" y1="482" x2="635" y2="490" stroke-width="1.6"/>
<circle cx="642" cy="486" r="2.8" stroke-width="1.5" fill="#fff"/>
<line x1="649" y1="482" x2="649" y2="490" stroke-width="1.6"/>
<line x1="712" y1="465.5" x2="712" y2="473.5" stroke-width="1.6"/>
<circle cx="719" cy="469.5" r="2.8" stroke-width="1.5" fill="#fff"/>
<line x1="726" y1="465.5" x2="726" y2="473.5" stroke-width="1.6"/>
<line x1="712" y1="482" x2="712" y2="490" stroke-width="1.6"/>
<circle cx="719" cy="486" r="2.8" stroke-width="1.5" fill="#fff"/>
<line x1="726" y1="482" x2="726" y2="490" stroke-width="1.6"/>
<line x1="666" y1="455" x2="666" y2="463" stroke-width="1.6"/>
<circle cx="671" cy="459" r="2.8" stroke-width="1.5" fill="#fff"/>
<line x1="681" y1="455" x2="681" y2="467" stroke-width="1.5"/>
<circle cx="688" cy="459" r="2.8" stroke-width="1.5" fill="#fff"/>
<line x1="694" y1="455" x2="694" y2="463" stroke-width="1.6"/>
<rect x="523.6" y="487" width="84.4" height="12.4" stroke-width="1.7" fill="#fff"/>
<line x1="560.4" y1="487" x2="560.4" y2="499.4" stroke-width="1.7"/>
<line x1="580" y1="487" x2="580" y2="499.4" stroke-width="1.7"/>
<line x1="567.4" y1="490.4" x2="572.6" y2="495.6" stroke-width="1.4"/>
<line x1="567.4" y1="495.6" x2="572.6" y2="490.4" stroke-width="1.4"/>
<line x1="571" y1="499.4" x2="571" y2="518" stroke-width="1.7"/>
<line x1="529" y1="508" x2="529" y2="516" stroke-width="1.3"/>
<line x1="532.4" y1="508" x2="532.4" y2="516" stroke-width="1.3"/>
<line x1="536" y1="508" x2="536" y2="516" stroke-width="1.3"/>
<line x1="567" y1="508" x2="567" y2="516" stroke-width="1.3"/>
<line x1="575" y1="508" x2="575" y2="516" stroke-width="1.3"/>
<line x1="602" y1="508" x2="602" y2="516" stroke-width="1.3"/>
<circle cx="606" cy="512" r="2.5" stroke-width="1.5" fill="#fff"/>
<line x1="613" y1="508" x2="613" y2="516" stroke-width="1.3"/>
<circle cx="619" cy="512" r="2.5" stroke-width="1.5" fill="#fff"/>
<line x1="624" y1="508" x2="624" y2="516" stroke-width="1.3"/>
<rect x="517.4" y="518" width="114.6" height="11.4" stroke-width="1.7" fill="#fff"/>
<line x1="546.4" y1="518" x2="546.4" y2="529.4" stroke-width="1.7"/>
<line x1="592.4" y1="518" x2="592.4" y2="529.4" stroke-width="1.7"/>
<line x1="529.1" y1="521.3" x2="533.9" y2="526.1" stroke-width="1.4"/>
<line x1="529.1" y1="526.1" x2="533.9" y2="521.3" stroke-width="1.4"/>
<line x1="568.1" y1="521.3" x2="572.9" y2="526.1" stroke-width="1.4"/>
<line x1="568.1" y1="526.1" x2="572.9" y2="521.3" stroke-width="1.4"/>
<line x1="532.4" y1="529.4" x2="532.4" y2="593.5" stroke-width="1.7"/>
<line x1="571" y1="529.4" x2="571" y2="593.5" stroke-width="1.7"/>
<line x1="612.4" y1="548" x2="612.4" y2="593.5" stroke-width="1.7"/>
<rect x="581.4" y="537.4" width="64.6" height="10.6" stroke-width="1.7" fill="#fff"/>
<rect x="646" y="536.4" width="70" height="26" stroke-width="1.7" fill="#fff"/>
<line x1="676" y1="543" x2="676" y2="555" stroke-width="1.5"/>
<line x1="683" y1="541" x2="683" y2="557" stroke-width="1.3"/>
<line x1="689" y1="543" x2="689" y2="555" stroke-width="1.5"/>
<rect x="673.6" y="562.4" width="16.4" height="7.6" stroke-width="1.7" fill="#fff"/>
<line x1="679.6" y1="563.8" x2="684.4" y2="568.6" stroke-width="1.4"/>
<line x1="679.6" y1="568.6" x2="684.4" y2="563.8" stroke-width="1.4"/>
<rect x="650" y="568.4" width="61" height="9" stroke-width="1.7" fill="#fff"/>
<line x1="666" y1="577.4" x2="666" y2="599.6" stroke-width="1.7"/>
<line x1="697" y1="577.4" x2="697" y2="599.6" stroke-width="1.7"/>
<line x1="670" y1="579" x2="670" y2="588" stroke-width="1.4"/>
<circle cx="675" cy="584" r="2.6" stroke-width="1.5" fill="#fff"/>
<circle cx="688" cy="585" r="2.6" stroke-width="1.5" fill="#fff"/>
<line x1="693" y1="580" x2="693" y2="589" stroke-width="1.4"/>
<line x1="662.1" y1="584.9" x2="667.3" y2="590.1" stroke-width="1.4"/>
<line x1="662.1" y1="590.1" x2="667.3" y2="584.9" stroke-width="1.4"/>
<rect x="653" y="599.6" width="50.6" height="8.2" stroke-width="1.7" fill="#fff"/>
<rect x="645" y="602" width="8" height="4" stroke-width="1.3" fill="#fff"/>
<rect x="602" y="600" width="41" height="10.5" stroke-width="1.5" fill="#fff"/>
<circle cx="606" cy="603.5" r="1.6" stroke-width="1.1" fill="#fff"/>
<circle cx="610" cy="607" r="1.6" stroke-width="1.1" fill="#fff"/>
<circle cx="615" cy="604.5" r="1.6" stroke-width="1.1" fill="#fff"/>
<circle cx="620" cy="606.5" r="1.6" stroke-width="1.1" fill="#fff"/>
<circle cx="625" cy="603.5" r="1.6" stroke-width="1.1" fill="#fff"/>
<circle cx="630" cy="606.5" r="1.6" stroke-width="1.1" fill="#fff"/>
<circle cx="635" cy="604" r="1.6" stroke-width="1.1" fill="#fff"/>
<circle cx="639" cy="607" r="1.6" stroke-width="1.1" fill="#fff"/>
<polyline points="595,593.5 595,614.7 712,614.7 712,594.8" stroke-width="1.7"/>
<line x1="558" y1="582" x2="558" y2="591" stroke-width="1.4"/>
<circle cx="562" cy="587" r="2.5" stroke-width="1.5" fill="#fff"/>
<line x1="567" y1="582" x2="567" y2="591" stroke-width="1.3"/>
<circle cx="575" cy="587" r="2.5" stroke-width="1.5" fill="#fff"/>
<line x1="581" y1="582" x2="581" y2="591" stroke-width="1.4"/>
<line x1="600" y1="582" x2="600" y2="591" stroke-width="1.6"/>
<circle cx="604.5" cy="587" r="2.5" stroke-width="1.5" fill="#fff"/>
<line x1="611" y1="582" x2="611" y2="591" stroke-width="1.3"/>
<circle cx="617" cy="587" r="2.5" stroke-width="1.5" fill="#fff"/>
<line x1="622" y1="582" x2="622" y2="591" stroke-width="1.4"/>
<line x1="528" y1="586" x2="528" y2="592" stroke-width="1.5"/>
<line x1="536" y1="587" x2="536" y2="592" stroke-width="1.5"/>
<rect x="511" y="598.4" width="40" height="6.6" stroke-width="1.6" fill="#fff" rx="3.3"/>
<path d="M543,605 L543,614 Q545,619 547,614 L547,605" stroke-width="1.4" fill="#fff"/>
<rect x="721.5" y="601" width="39.8" height="6" stroke-width="1.6" fill="#fff" rx="3"/>
<path d="M754,607 L754,616 Q756,621 758,616 L758,607" stroke-width="1.4" fill="#fff"/>
<line x1="741" y1="548.6" x2="741" y2="601" stroke-width="1.7"/>
<rect x="729.2" y="536.4" width="21.3" height="12.2" stroke-width="1.7" fill="#fff"/>
<line x1="737.2" y1="539.7" x2="742.8" y2="545.3" stroke-width="1.4"/>
<line x1="737.2" y1="545.3" x2="742.8" y2="539.7" stroke-width="1.4"/>
<circle cx="731.9" cy="559.3" r="2.9" stroke-width="1.5" fill="#fff"/>
<line x1="727.9" y1="552.8" x2="735.9" y2="552.8" stroke-width="1.7"/>
<line x1="727.9" y1="565.8" x2="735.9" y2="565.8" stroke-width="1.7"/>
<circle cx="731.9" cy="585" r="2.9" stroke-width="1.5" fill="#fff"/>
<line x1="727.9" y1="579.6" x2="735.9" y2="579.6" stroke-width="1.7"/>
<line x1="727.9" y1="590.6" x2="735.9" y2="590.6" stroke-width="1.7"/>
<circle cx="746.8" cy="559.3" r="2.9" stroke-width="1.5" fill="#fff"/>
<line x1="742.8" y1="552.8" x2="750.8" y2="552.8" stroke-width="1.7"/>
<line x1="742.8" y1="565.8" x2="750.8" y2="565.8" stroke-width="1.7"/>
<circle cx="746.8" cy="585" r="2.9" stroke-width="1.5" fill="#fff"/>
<line x1="742.8" y1="579.6" x2="750.8" y2="579.6" stroke-width="1.7"/>
<line x1="742.8" y1="590.6" x2="750.8" y2="590.6" stroke-width="1.7"/>
<g transform="translate(550,634) skewX(-15)" stroke-width="1.3" fill="none"><g transform="translate(0,0)"><path d="M6.6,-12.5 L1.6,-12.5 L0.9,-7.2 Q2.2,-8.1 3.8,-8.1 Q7,-8.1 7,-4 Q7,0 3.5,0 Q1,0 0,-2"/></g><g transform="translate(9.6,0)"><path d="M1,-9.5 L3.8,-12.5 L3.8,0"/></g></g>
<line x1="548" y1="635.5" x2="572" y2="635.5" stroke-width="1.4"/>
<polyline points="572,635.5 576,590" stroke-width="1.15"/>
<g transform="translate(589,634) skewX(-15)" stroke-width="1.3" fill="none"><g transform="translate(0,0)"><path d="M6.6,-12.5 L1.6,-12.5 L0.9,-7.2 Q2.2,-8.1 3.8,-8.1 Q7,-8.1 7,-4 Q7,0 3.5,0 Q1,0 0,-2"/></g><g transform="translate(9.6,0)"><ellipse cx="3.5" cy="-6.25" rx="3.3" ry="6.1"/></g></g>
<line x1="585" y1="635.5" x2="605" y2="635.5" stroke-width="1.4"/>
<polyline points="585,635.5 605,513" stroke-width="1.15"/>
<g transform="translate(620,634) skewX(-15)" stroke-width="1.3" fill="none"><g transform="translate(0,0)"><path d="M5.2,0 L5.2,-12.5 L0,-3.6 L7.6,-3.6"/></g><g transform="translate(9.8,0)"><path d="M6.9,-8.4 Q6.9,-4.6 3.5,-4.6 Q0,-4.6 0,-8.5 Q0,-12.5 3.5,-12.5 Q7,-12.5 6.9,-8.4 L6.2,-3.5 Q5.4,0 2.6,0 Q1,0 0.4,-1.4"/></g></g>
<line x1="617" y1="636" x2="640" y2="636" stroke-width="1.4"/>
<polyline points="617,636 606,590" stroke-width="1.15"/>
<g transform="translate(657,634) skewX(-15)" stroke-width="1.3" fill="none"><g transform="translate(0,0)"><path d="M5.2,0 L5.2,-12.5 L0,-3.6 L7.6,-3.6"/></g><g transform="translate(9.8,0)"><ellipse cx="3.6" cy="-9.45" rx="2.9" ry="3.05"/><ellipse cx="3.5" cy="-3.3" rx="3.4" ry="3.3"/></g></g>
<line x1="656" y1="636" x2="676" y2="636" stroke-width="1.4"/>
<polyline points="656,636 650,605" stroke-width="1.15"/>
<g transform="translate(687,634) skewX(-15)" stroke-width="1.3" fill="none"><g transform="translate(0,0)"><path d="M5.2,0 L5.2,-12.5 L0,-3.6 L7.6,-3.6"/></g><g transform="translate(9.8,0)"><path d="M0,-12.5 L7,-12.5 L2.4,0"/></g></g>
<line x1="682" y1="636" x2="707" y2="636" stroke-width="1.4"/>
<polyline points="682,636 676,586" stroke-width="1.15"/>
<g transform="translate(800,634) skewX(-15)" stroke-width="1.3" fill="none"><g transform="translate(0,0)"><path d="M5.2,0 L5.2,-12.5 L0,-3.6 L7.6,-3.6"/></g><g transform="translate(9.8,0)"><path d="M6.2,-11.4 Q5.2,-12.5 3.6,-12.5 Q0,-12.5 0,-5 Q0,0 3.5,0 Q7,0 7,-4 Q7,-7.8 3.6,-7.8 Q0.6,-7.8 0,-4.6"/></g></g>
<line x1="797" y1="635" x2="820" y2="635" stroke-width="1.4"/>
<polyline points="797,635 749.5,587" stroke-width="1.15"/>
<g transform="translate(851,634) skewX(-15)" stroke-width="1.3" fill="none"><g transform="translate(0,0)"><path d="M5.2,0 L5.2,-12.5 L0,-3.6 L7.6,-3.6"/></g><g transform="translate(9.8,0)"><path d="M6.6,-12.5 L1.6,-12.5 L0.9,-7.2 Q2.2,-8.1 3.8,-8.1 Q7,-8.1 7,-4 Q7,0 3.5,0 Q1,0 0,-2"/></g></g>
<line x1="849" y1="635" x2="873" y2="635" stroke-width="1.4"/>
<polyline points="849,635 749.5,561" stroke-width="1.15"/>
<g transform="translate(982.5,633) skewX(-15)" stroke-width="1.3" fill="none"><g transform="translate(0,0)"><path d="M5.2,0 L5.2,-12.5 L0,-3.6 L7.6,-3.6"/></g><g transform="translate(9.8,0)"><path d="M5.2,0 L5.2,-12.5 L0,-3.6 L7.6,-3.6"/></g></g>
<line x1="982.5" y1="634.5" x2="1005.7" y2="634.5" stroke-width="1.4"/>
<polyline points="1005.7,634.5 1013.7,609.8" stroke-width="1.15"/>
<g transform="translate(1108.6,457.6) skewX(-15)" stroke-width="1.3" fill="none"><g transform="translate(0,0)"><path d="M5.2,0 L5.2,-12.5 L0,-3.6 L7.6,-3.6"/></g><g transform="translate(9.8,0)"><path d="M0.6,-9.6 Q1,-12.5 3.6,-12.5 Q6.6,-12.5 6.6,-9.6 Q6.6,-7.2 3.6,-4.6 L0,0 L7,0"/></g></g>
<line x1="1106" y1="459.3" x2="1132" y2="459.3" stroke-width="1.4"/>
<polyline points="1106,459.3 1059,439" stroke-width="1.15"/>
<g transform="translate(1112,505) skewX(-15)" stroke-width="1.3" fill="none"><g transform="translate(0,0)"><path d="M5.2,0 L5.2,-12.5 L0,-3.6 L7.6,-3.6"/></g><g transform="translate(9.8,0)"><path d="M0.4,-11 Q1.5,-12.5 3.6,-12.5 Q6.6,-12.5 6.6,-9.8 Q6.6,-7 3.2,-6.8 Q7,-6.6 7,-3.3 Q7,0 3.5,0 Q1,0 0,-2"/></g></g>
<line x1="1106" y1="506.5" x2="1132" y2="506.5" stroke-width="1.4"/>
<polyline points="1106,506.5 1059.5,486.5" stroke-width="1.15"/>
<g transform="translate(662.7,70.7) skewX(-15)" stroke-width="1.3" fill="none"><g transform="translate(0,0)"><path d="M0.4,-11 Q1.5,-12.5 3.6,-12.5 Q6.6,-12.5 6.6,-9.8 Q6.6,-7 3.2,-6.8 Q7,-6.6 7,-3.3 Q7,0 3.5,0 Q1,0 0,-2"/></g><g transform="translate(9.6,0)"><path d="M6.2,-11.4 Q5.2,-12.5 3.6,-12.5 Q0,-12.5 0,-5 Q0,0 3.5,0 Q7,0 7,-4 Q7,-7.8 3.6,-7.8 Q0.6,-7.8 0,-4.6"/></g></g>
<line x1="660" y1="74" x2="678" y2="74" stroke-width="1.4"/>
<polyline points="660,74 642.6,465" stroke-width="1.15"/>
<g transform="translate(698.7,70.5) skewX(-15)" stroke-width="1.3" fill="none"><g transform="translate(0,0)"><path d="M0.4,-11 Q1.5,-12.5 3.6,-12.5 Q6.6,-12.5 6.6,-9.8 Q6.6,-7 3.2,-6.8 Q7,-6.6 7,-3.3 Q7,0 3.5,0 Q1,0 0,-2"/></g><g transform="translate(9.6,0)"><path d="M0,-12.5 L7,-12.5 L2.4,0"/></g></g>
<line x1="696" y1="73.5" x2="717" y2="73.5" stroke-width="1.4"/>
<polyline points="696,73.5 671,455" stroke-width="1.15"/>
<g transform="translate(736,70.5) skewX(-15)" stroke-width="1.3" fill="none"><g transform="translate(0,0)"><path d="M0.4,-11 Q1.5,-12.5 3.6,-12.5 Q6.6,-12.5 6.6,-9.8 Q6.6,-7 3.2,-6.8 Q7,-6.6 7,-3.3 Q7,0 3.5,0 Q1,0 0,-2"/></g><g transform="translate(9.6,0)"><ellipse cx="3.6" cy="-9.45" rx="2.9" ry="3.05"/><ellipse cx="3.5" cy="-3.3" rx="3.4" ry="3.3"/></g></g>
<line x1="733" y1="73.5" x2="752" y2="73.5" stroke-width="1.4"/>
<polyline points="733,73.5 718.5,465" stroke-width="1.15"/>
<g transform="translate(768,70) skewX(-15)" stroke-width="1.3" fill="none"><g transform="translate(0,0)"><path d="M0.4,-11 Q1.5,-12.5 3.6,-12.5 Q6.6,-12.5 6.6,-9.8 Q6.6,-7 3.2,-6.8 Q7,-6.6 7,-3.3 Q7,0 3.5,0 Q1,0 0,-2"/></g><g transform="translate(9.6,0)"><path d="M6.9,-8.4 Q6.9,-4.6 3.5,-4.6 Q0,-4.6 0,-8.5 Q0,-12.5 3.5,-12.5 Q7,-12.5 6.9,-8.4 L6.2,-3.5 Q5.4,0 2.6,0 Q1,0 0.4,-1.4"/></g></g>
<line x1="765" y1="73" x2="787" y2="73" stroke-width="1.4"/>
<polyline points="765,73 745,263" stroke-width="1.15"/>
<g transform="translate(812,70) skewX(-15)" stroke-width="1.3" fill="none"><g transform="translate(0,0)"><path d="M6.6,-12.5 L1.6,-12.5 L0.9,-7.2 Q2.2,-8.1 3.8,-8.1 Q7,-8.1 7,-4 Q7,0 3.5,0 Q1,0 0,-2"/></g><g transform="translate(9.6,0)"><path d="M5.2,0 L5.2,-12.5 L0,-3.6 L7.6,-3.6"/></g></g>
<line x1="806" y1="73" x2="831" y2="73" stroke-width="1.4"/>
<polyline points="806,73 754,262" stroke-width="1.15"/>
<g transform="translate(1037.6,72) skewX(-15)" stroke-width="1.3" fill="none"><g transform="translate(0,0)"><path d="M5.2,0 L5.2,-12.5 L0,-3.6 L7.6,-3.6"/></g><g transform="translate(9.8,0)"><ellipse cx="3.5" cy="-6.25" rx="3.3" ry="6.1"/></g></g>
<line x1="1033" y1="74" x2="1059" y2="74" stroke-width="1.4"/>
<polyline points="1033,74 1070.4,201.5" stroke-width="1.15"/>
<g transform="translate(1081,72) skewX(-15)" stroke-width="1.3" fill="none"><g transform="translate(0,0)"><path d="M5.2,0 L5.2,-12.5 L0,-3.6 L7.6,-3.6"/></g><g transform="translate(9.8,0)"><path d="M1,-9.5 L3.8,-12.5 L3.8,0"/></g></g>
<line x1="1074" y1="73" x2="1102" y2="73" stroke-width="1.4"/>
<polyline points="1074,73 1086,204" stroke-width="1.15"/>
<line x1="1053.6" y1="417.4" x2="1060.5" y2="417.4" stroke-width="1.8"/>
<circle cx="1056.3" cy="423.9" r="2.7" stroke-width="1.5" fill="#fff"/>
<line x1="1039" y1="432.5" x2="1065.7" y2="432.5" stroke-width="1.5"/>
<polyline points="1048.4,432.5 1052.6,443.3 1061,443.3" stroke-width="1.6"/>
<circle cx="1056.3" cy="438.1" r="2.9" stroke-width="1.5" fill="#fff"/>
<line x1="1053.6" y1="463.8" x2="1060.5" y2="463.8" stroke-width="1.8"/>
<circle cx="1056.8" cy="469.6" r="2.8" stroke-width="1.5" fill="#fff"/>
<circle cx="1056.8" cy="485.4" r="2.8" stroke-width="1.5" fill="#fff"/>
<line x1="1053.6" y1="491.1" x2="1060.5" y2="491.1" stroke-width="1.8"/>
<line x1="1058" y1="521" x2="1064" y2="521" stroke-width="1.8"/>
<line x1="1058" y1="528" x2="1064" y2="528" stroke-width="1.8"/>
<line x1="890" y1="245" x2="890" y2="378.9" stroke-width="1.7"/>
<line x1="1042.5" y1="245" x2="1042.3" y2="380" stroke-width="1.7"/>
<line x1="890" y1="346.5" x2="1043" y2="346.5" stroke-width="1.7"/>
<rect x="865.7" y="184.8" width="196.3" height="60.2" stroke-width="1.7" fill="#fff"/>
<rect x="836" y="193" width="29.7" height="42.6" stroke-width="1.7" fill="#fff"/>
<rect x="817" y="206" width="19" height="18" stroke-width="1.7" fill="#fff"/>
<polygon points="817,206 803,215 817,224" stroke-width="1.7" fill="#fff"/>
<rect x="1062" y="193" width="30" height="44.4" stroke-width="1.7" fill="#fff"/>
<line x1="1055.6" y1="213.5" x2="1103" y2="214.2" stroke-width="1.4"/>
<polyline points="938.7,212.9 939.7,213.7 940.7,214.5 941.7,215.1 942.7,215.7 943.7,216 944.7,216.2 945.7,216.2 946.7,215.9 947.7,215.5 948.7,214.9 949.7,214.2 950.7,213.4 951.7,212.5 952.7,211.7 953.7,210.9 954.7,210.3 955.7,209.7 956.7,209.4 957.7,209.2 958.7,209.2 959.7,209.5 960.7,209.9 961.7,210.5 962.7,211.2 963.7,212 964.7,212.9 965.7,213.7 966.7,214.5 967.7,215.1 968.7,215.7 969.7,216 970.7,216.2 971.7,216.2 972.7,215.9 973.7,215.5 974.7,214.9 975.7,214.2 976.7,213.4 977.7,212.5 978.7,211.7 979.7,210.9 980.7,210.3 981.7,209.7 982.7,209.4 983.7,209.2 984.7,209.2 985.7,209.5 986.7,209.9 987.7,210.5 988.7,211.2 989.7,212 990.7,212.9 991.7,213.7 992.7,214.5 993.7,215.1 994.7,215.7 995.7,216 996.7,216.2 997.7,216.2 998.7,215.9 999.7,215.5 1000.7,214.9 1001.7,214.2 1002.7,213.4 1003.7,212.5 1004.7,211.7 1005.7,210.9 1006.7,210.3 1007.7,209.7 1008.7,209.4 1009.7,209.2 1010.7,209.2 1011.7,209.5 1012.7,209.9 1013.7,210.5 1014.7,211.2 1015.7,212 1016.7,212.9 1017.7,213.7 1018.7,214.5 1019.7,215.1 1020.7,215.7 1021.7,216 1022.7,216.2 1023.7,216.2 1024.7,215.9 1025.7,215.5 1026.7,214.9 1027.7,214.2 1028.7,213.4 1029.7,212.5 1030.7,211.7 1031.7,210.9 1032.7,210.3 1033.7,209.7 1034.7,209.4 1035.7,209.2 1036.7,209.2 1037.7,209.5 1038.7,209.9 1039.7,210.5 1040.7,211.2 1041.7,212 1042.7,212.9 1043.7,213.7 1044.7,214.5 1045.7,215.1 1046.7,215.7 1047.7,216 1048.7,216.2 1049.7,216.2 1050.7,215.9 1051.7,215.5 1052.7,214.9 1053.7,214.2 1054.7,213.4" stroke-width="1.6"/>
<path d="M991,207.5 Q996,205.5 1001,208" stroke-width="1.2" fill="none"/>
<path d="M991,218 Q996,220.5 1001,218" stroke-width="1.2" fill="none"/>
<line x1="1065" y1="201.5" x2="1065" y2="209.5" stroke-width="1.4"/>
<circle cx="1070" cy="205.5" r="2.4" stroke-width="1.5" fill="#fff"/>
<line x1="1075" y1="201.5" x2="1075" y2="209.5" stroke-width="1.4"/>
<line x1="1079" y1="201.5" x2="1079" y2="209.5" stroke-width="1.4"/>
<circle cx="1084" cy="205.5" r="2.4" stroke-width="1.5" fill="#fff"/>
<line x1="1089" y1="201.5" x2="1089" y2="209.5" stroke-width="1.4"/>
<line x1="1065" y1="217" x2="1065" y2="225" stroke-width="1.4"/>
<circle cx="1070" cy="221" r="2.4" stroke-width="1.5" fill="#fff"/>
<line x1="1075" y1="217" x2="1075" y2="225" stroke-width="1.4"/>
<line x1="1079" y1="217" x2="1079" y2="225" stroke-width="1.4"/>
<circle cx="1084" cy="221" r="2.4" stroke-width="1.5" fill="#fff"/>
<line x1="1089" y1="217" x2="1089" y2="225" stroke-width="1.4"/>
<rect x="1102.7" y="181" width="10.3" height="66.6" stroke-width="1.8" fill="#fff" rx="5"/>
<path d="M1111.7,183 L1132,182.5 Q1137.5,182.5 1137.5,186 Q1137.5,189.7 1132,189.7 L1111.7,188.5" stroke-width="1.6" fill="#fff"/>
<path d="M892.4,611.2 Q896,606 901.8,602.5 Q910,595 917.8,590.1 Q925,588 938,588 L960,584.3 Q972,582 981.7,578.5 Q988,576 993.4,572.7 L1010.8,565.4 Q1020,561 1026.8,557.4 L1038.4,551 L1039,610.5 L892.4,611.2" stroke-width="1.6" fill="none"/>
<path d="M928,611 Q934,607 942.5,606.9 L1010.8,606" stroke-width="1.4" fill="none"/>
<rect x="1010" y="603" width="22" height="7" stroke-width="1.3" fill="#fff"/>
<rect x="1016" y="592" width="11.5" height="10.5" stroke-width="1.4" fill="#fff"/>
<polyline points="1018,592 1019,583 1025,583 1026,592" stroke-width="1.3"/>
<circle cx="1022.4" cy="577" r="5" stroke-width="1.6" fill="#fff"/>
<circle cx="1022.4" cy="577" r="2.6" stroke-width="1.3" fill="#fff"/>
<g transform="translate(41,66) skewX(-15)" stroke-width="1.3" fill="none"><g transform="translate(0,0)"><path d="M0.6,-9.6 Q1,-12.5 3.6,-12.5 Q6.6,-12.5 6.6,-9.6 Q6.6,-7.2 3.6,-4.6 L0,0 L7,0"/></g><g transform="translate(9.6,0)"><path d="M6.2,-11.4 Q5.2,-12.5 3.6,-12.5 Q0,-12.5 0,-5 Q0,0 3.5,0 Q7,0 7,-4 Q7,-7.8 3.6,-7.8 Q0.6,-7.8 0,-4.6"/></g></g>
<line x1="40" y1="70" x2="62" y2="70" stroke-width="1.4"/>
<polyline points="62,70 148,197" stroke-width="1.15"/>
<g transform="translate(79,66) skewX(-15)" stroke-width="1.3" fill="none"><g transform="translate(0,0)"><path d="M0.6,-9.6 Q1,-12.5 3.6,-12.5 Q6.6,-12.5 6.6,-9.6 Q6.6,-7.2 3.6,-4.6 L0,0 L7,0"/></g><g transform="translate(9.6,0)"><path d="M0,-12.5 L7,-12.5 L2.4,0"/></g></g>
<line x1="76" y1="70" x2="99" y2="70" stroke-width="1.4"/>
<polyline points="99,70 168,199" stroke-width="1.15"/>
<g transform="translate(212,68) skewX(-15)" stroke-width="1.3" fill="none"><g transform="translate(0,0)"><path d="M0.6,-9.6 Q1,-12.5 3.6,-12.5 Q6.6,-12.5 6.6,-9.6 Q6.6,-7.2 3.6,-4.6 L0,0 L7,0"/></g><g transform="translate(9.6,0)"><ellipse cx="3.6" cy="-9.45" rx="2.9" ry="3.05"/><ellipse cx="3.5" cy="-3.3" rx="3.4" ry="3.3"/></g></g>
<line x1="209" y1="71" x2="234" y2="71" stroke-width="1.4"/>
<polyline points="234,71 233,240 207,288" stroke-width="1.15"/>
<g transform="translate(249,68) skewX(-15)" stroke-width="1.3" fill="none"><g transform="translate(0,0)"><path d="M0.6,-9.6 Q1,-12.5 3.6,-12.5 Q6.6,-12.5 6.6,-9.6 Q6.6,-7.2 3.6,-4.6 L0,0 L7,0"/></g><g transform="translate(9.6,0)"><path d="M6.9,-8.4 Q6.9,-4.6 3.5,-4.6 Q0,-4.6 0,-8.5 Q0,-12.5 3.5,-12.5 Q7,-12.5 6.9,-8.4 L6.2,-3.5 Q5.4,0 2.6,0 Q1,0 0.4,-1.4"/></g></g>
<line x1="247" y1="72" x2="269" y2="72" stroke-width="1.4"/>
<polyline points="247,72 259.5,189" stroke-width="1.15"/>
<g transform="translate(285,70) skewX(-15)" stroke-width="1.3" fill="none"><g transform="translate(0,0)"><path d="M0.4,-11 Q1.5,-12.5 3.6,-12.5 Q6.6,-12.5 6.6,-9.8 Q6.6,-7 3.2,-6.8 Q7,-6.6 7,-3.3 Q7,0 3.5,0 Q1,0 0,-2"/></g><g transform="translate(9.6,0)"><ellipse cx="3.5" cy="-6.25" rx="3.3" ry="6.1"/></g></g>
<line x1="283" y1="72" x2="303" y2="72" stroke-width="1.4"/>
<polyline points="283,72 281,76 281,234 262,249" stroke-width="1.15"/>
<g transform="translate(321,69) skewX(-15)" stroke-width="1.3" fill="none"><g transform="translate(0,0)"><path d="M0.4,-11 Q1.5,-12.5 3.6,-12.5 Q6.6,-12.5 6.6,-9.8 Q6.6,-7 3.2,-6.8 Q7,-6.6 7,-3.3 Q7,0 3.5,0 Q1,0 0,-2"/></g><g transform="translate(9.6,0)"><path d="M1,-9.5 L3.8,-12.5 L3.8,0"/></g></g>
<line x1="317" y1="71.5" x2="337" y2="71.5" stroke-width="1.4"/>
<polyline points="317.5,71.5 318,189" stroke-width="1.15"/>
<g transform="translate(354,69) skewX(-15)" stroke-width="1.3" fill="none"><g transform="translate(0,0)"><path d="M0.4,-11 Q1.5,-12.5 3.6,-12.5 Q6.6,-12.5 6.6,-9.8 Q6.6,-7 3.2,-6.8 Q7,-6.6 7,-3.3 Q7,0 3.5,0 Q1,0 0,-2"/></g><g transform="translate(9.6,0)"><path d="M0.6,-9.6 Q1,-12.5 3.6,-12.5 Q6.6,-12.5 6.6,-9.6 Q6.6,-7.2 3.6,-4.6 L0,0 L7,0"/></g></g>
<line x1="349" y1="71.5" x2="372" y2="71.5" stroke-width="1.4"/>
<polyline points="372,71.5 321,249" stroke-width="1.15"/>
<g transform="translate(387,69) skewX(-15)" stroke-width="1.3" fill="none"><g transform="translate(0,0)"><path d="M0.4,-11 Q1.5,-12.5 3.6,-12.5 Q6.6,-12.5 6.6,-9.8 Q6.6,-7 3.2,-6.8 Q7,-6.6 7,-3.3 Q7,0 3.5,0 Q1,0 0,-2"/></g><g transform="translate(9.6,0)"><path d="M0.4,-11 Q1.5,-12.5 3.6,-12.5 Q6.6,-12.5 6.6,-9.8 Q6.6,-7 3.2,-6.8 Q7,-6.6 7,-3.3 Q7,0 3.5,0 Q1,0 0,-2"/></g></g>
<line x1="385" y1="72" x2="402" y2="72" stroke-width="1.4"/>
<polyline points="385,72 413.7,247" stroke-width="1.15"/>
<g transform="translate(422,70) skewX(-15)" stroke-width="1.3" fill="none"><g transform="translate(0,0)"><path d="M0.4,-11 Q1.5,-12.5 3.6,-12.5 Q6.6,-12.5 6.6,-9.8 Q6.6,-7 3.2,-6.8 Q7,-6.6 7,-3.3 Q7,0 3.5,0 Q1,0 0,-2"/></g><g transform="translate(9.6,0)"><path d="M5.2,0 L5.2,-12.5 L0,-3.6 L7.6,-3.6"/></g></g>
<line x1="417" y1="73" x2="439" y2="73" stroke-width="1.4"/>
<polyline points="417,73 422.7,150" stroke-width="1.15"/>
<g transform="translate(456,70) skewX(-15)" stroke-width="1.3" fill="none"><g transform="translate(0,0)"><path d="M0.4,-11 Q1.5,-12.5 3.6,-12.5 Q6.6,-12.5 6.6,-9.8 Q6.6,-7 3.2,-6.8 Q7,-6.6 7,-3.3 Q7,0 3.5,0 Q1,0 0,-2"/></g><g transform="translate(9.6,0)"><path d="M6.6,-12.5 L1.6,-12.5 L0.9,-7.2 Q2.2,-8.1 3.8,-8.1 Q7,-8.1 7,-4 Q7,0 3.5,0 Q1,0 0,-2"/></g></g>
<line x1="453" y1="73" x2="477" y2="73" stroke-width="1.4"/>
<polyline points="454,73 432,201" stroke-width="1.15"/>
<g transform="translate(45,239.5) skewX(-15)" stroke-width="1.3" fill="none"><g transform="translate(0,0)"><path d="M0.6,-9.6 Q1,-12.5 3.6,-12.5 Q6.6,-12.5 6.6,-9.6 Q6.6,-7.2 3.6,-4.6 L0,0 L7,0"/></g><g transform="translate(9.6,0)"><path d="M6.6,-12.5 L1.6,-12.5 L0.9,-7.2 Q2.2,-8.1 3.8,-8.1 Q7,-8.1 7,-4 Q7,0 3.5,0 Q1,0 0,-2"/></g></g>
<line x1="44" y1="242" x2="68" y2="242" stroke-width="1.4"/>
<polyline points="68,242 149,262" stroke-width="1.15"/>
<g transform="translate(47.5,275) skewX(-15)" stroke-width="1.3" fill="none"><g transform="translate(0,0)"><path d="M0.6,-9.6 Q1,-12.5 3.6,-12.5 Q6.6,-12.5 6.6,-9.6 Q6.6,-7.2 3.6,-4.6 L0,0 L7,0"/></g><g transform="translate(9.6,0)"><path d="M5.2,0 L5.2,-12.5 L0,-3.6 L7.6,-3.6"/></g></g>
<line x1="47" y1="277" x2="67" y2="277" stroke-width="1.4"/>
<polyline points="67,277 131,292" stroke-width="1.15"/>
<g transform="translate(44,302) skewX(-15)" stroke-width="1.3" fill="none"><g transform="translate(0,0)"><path d="M0.6,-9.6 Q1,-12.5 3.6,-12.5 Q6.6,-12.5 6.6,-9.6 Q6.6,-7.2 3.6,-4.6 L0,0 L7,0"/></g><g transform="translate(9.6,0)"><path d="M0.4,-11 Q1.5,-12.5 3.6,-12.5 Q6.6,-12.5 6.6,-9.8 Q6.6,-7 3.2,-6.8 Q7,-6.6 7,-3.3 Q7,0 3.5,0 Q1,0 0,-2"/></g></g>
<line x1="44" y1="305" x2="68" y2="305" stroke-width="1.4"/>
<polyline points="68,305 180,341" stroke-width="1.15"/>
<g transform="translate(48,338) skewX(-15)" stroke-width="1.3" fill="none"><g transform="translate(0,0)"><path d="M0.6,-9.6 Q1,-12.5 3.6,-12.5 Q6.6,-12.5 6.6,-9.6 Q6.6,-7.2 3.6,-4.6 L0,0 L7,0"/></g><g transform="translate(9.6,0)"><path d="M0.6,-9.6 Q1,-12.5 3.6,-12.5 Q6.6,-12.5 6.6,-9.6 Q6.6,-7.2 3.6,-4.6 L0,0 L7,0"/></g></g>
<line x1="48" y1="340.5" x2="68" y2="340.5" stroke-width="1.4"/>
<polyline points="68,340.5 135,342" stroke-width="1.15"/>
<g transform="translate(55,447) skewX(-15)" stroke-width="1.3" fill="none"><g transform="translate(0,0)"><path d="M0.6,-9.6 Q1,-12.5 3.6,-12.5 Q6.6,-12.5 6.6,-9.6 Q6.6,-7.2 3.6,-4.6 L0,0 L7,0"/></g><g transform="translate(9.6,0)"><path d="M1,-9.5 L3.8,-12.5 L3.8,0"/></g></g>
<line x1="50" y1="449" x2="76" y2="449" stroke-width="1.4"/>
<polyline points="76,449 131.5,437.5" stroke-width="1.15"/>
<g transform="translate(53,494) skewX(-15)" stroke-width="1.3" fill="none"><g transform="translate(0,0)"><path d="M0.6,-9.6 Q1,-12.5 3.6,-12.5 Q6.6,-12.5 6.6,-9.6 Q6.6,-7.2 3.6,-4.6 L0,0 L7,0"/></g><g transform="translate(9.6,0)"><ellipse cx="3.5" cy="-6.25" rx="3.3" ry="6.1"/></g></g>
<line x1="52" y1="497" x2="76" y2="497" stroke-width="1.4"/>
<polyline points="76,497 147,441" stroke-width="1.15"/>
<g transform="translate(58,533) skewX(-15)" stroke-width="1.3" fill="none"><g transform="translate(0,0)"><path d="M1,-9.5 L3.8,-12.5 L3.8,0"/></g><g transform="translate(7.1,0)"><path d="M6.9,-8.4 Q6.9,-4.6 3.5,-4.6 Q0,-4.6 0,-8.5 Q0,-12.5 3.5,-12.5 Q7,-12.5 6.9,-8.4 L6.2,-3.5 Q5.4,0 2.6,0 Q1,0 0.4,-1.4"/></g></g>
<line x1="52" y1="535.5" x2="76" y2="535.5" stroke-width="1.4"/>
<polyline points="76,535.5 148,486" stroke-width="1.15"/>
<g transform="translate(152,600) skewX(-15)" stroke-width="1.3" fill="none"><g transform="translate(0,0)"><path d="M1,-9.5 L3.8,-12.5 L3.8,0"/></g><g transform="translate(7.1,0)"><ellipse cx="3.6" cy="-9.45" rx="2.9" ry="3.05"/><ellipse cx="3.5" cy="-3.3" rx="3.4" ry="3.3"/></g></g>
<line x1="148" y1="603" x2="170" y2="603" stroke-width="1.4"/>
<polyline points="170,603 346,438" stroke-width="1.15"/>
<g transform="translate(191,600) skewX(-15)" stroke-width="1.3" fill="none"><g transform="translate(0,0)"><path d="M1,-9.5 L3.8,-12.5 L3.8,0"/></g><g transform="translate(7.1,0)"><path d="M0,-12.5 L7,-12.5 L2.4,0"/></g></g>
<line x1="186" y1="602" x2="208" y2="602" stroke-width="1.4"/>
<polyline points="208,602 359,439" stroke-width="1.15"/>
<g transform="translate(231,600) skewX(-15)" stroke-width="1.3" fill="none"><g transform="translate(0,0)"><path d="M1,-9.5 L3.8,-12.5 L3.8,0"/></g><g transform="translate(7.1,0)"><path d="M6.2,-11.4 Q5.2,-12.5 3.6,-12.5 Q0,-12.5 0,-5 Q0,0 3.5,0 Q7,0 7,-4 Q7,-7.8 3.6,-7.8 Q0.6,-7.8 0,-4.6"/></g></g>
<line x1="226" y1="602" x2="250" y2="602" stroke-width="1.4"/>
<polyline points="250,602 355,485" stroke-width="1.15"/>
<g transform="translate(290,599) skewX(-15)" stroke-width="1.3" fill="none"><g transform="translate(0,0)"><path d="M1,-9.5 L3.8,-12.5 L3.8,0"/></g><g transform="translate(7.1,0)"><path d="M6.6,-12.5 L1.6,-12.5 L0.9,-7.2 Q2.2,-8.1 3.8,-8.1 Q7,-8.1 7,-4 Q7,0 3.5,0 Q1,0 0,-2"/></g></g>
<line x1="277" y1="601" x2="303" y2="601" stroke-width="1.4"/>
<polyline points="280,601 365,486" stroke-width="1.15"/>
<g transform="translate(330,599) skewX(-15)" stroke-width="1.3" fill="none"><g transform="translate(0,0)"><path d="M1,-9.5 L3.8,-12.5 L3.8,0"/></g><g transform="translate(7.1,0)"><path d="M5.2,0 L5.2,-12.5 L0,-3.6 L7.6,-3.6"/></g></g>
<line x1="333" y1="600" x2="353" y2="600" stroke-width="1.4"/>
<polyline points="353,600 355,536" stroke-width="1.15"/>
<g transform="translate(371,599) skewX(-15)" stroke-width="1.3" fill="none"><g transform="translate(0,0)"><path d="M1,-9.5 L3.8,-12.5 L3.8,0"/></g><g transform="translate(7.1,0)"><path d="M0.4,-11 Q1.5,-12.5 3.6,-12.5 Q6.6,-12.5 6.6,-9.8 Q6.6,-7 3.2,-6.8 Q7,-6.6 7,-3.3 Q7,0 3.5,0 Q1,0 0,-2"/></g></g>
<line x1="365" y1="600" x2="387" y2="600" stroke-width="1.4"/>
<polyline points="365,600 365.6,536" stroke-width="1.15"/>
<g transform="translate(410.5,596.5) skewX(-15)" stroke-width="1.3" fill="none"><g transform="translate(0,0)"><path d="M1,-9.5 L3.8,-12.5 L3.8,0"/></g><g transform="translate(7.1,0)"><path d="M0.6,-9.6 Q1,-12.5 3.6,-12.5 Q6.6,-12.5 6.6,-9.6 Q6.6,-7.2 3.6,-4.6 L0,0 L7,0"/></g></g>
<line x1="409" y1="598.6" x2="432.5" y2="598.6" stroke-width="1.4"/>
<polyline points="432.5,598.6 440,536" stroke-width="1.15"/>
<g transform="translate(446.5,596.5) skewX(-15)" stroke-width="1.3" fill="none"><g transform="translate(0,0)"><path d="M1,-9.5 L3.8,-12.5 L3.8,0"/></g><g transform="translate(7.1,0)"><path d="M1,-9.5 L3.8,-12.5 L3.8,0"/></g></g>
<line x1="445" y1="598.6" x2="465" y2="598.6" stroke-width="1.4"/>
<polyline points="465,598.6 472,505.7 443,486" stroke-width="1.15"/>
<g transform="translate(471,596.5) skewX(-15)" stroke-width="1.3" fill="none"><g transform="translate(0,0)"><path d="M1,-9.5 L3.8,-12.5 L3.8,0"/></g><g transform="translate(7.1,0)"><ellipse cx="3.5" cy="-6.25" rx="3.3" ry="6.1"/></g></g>
<line x1="469.7" y1="598.6" x2="488.3" y2="598.6" stroke-width="1.4"/>
<polyline points="488.3,598.6 482.4,470 426.5,438.9" stroke-width="1.15"/>
<g transform="translate(497.6,596.5) skewX(-15)" stroke-width="1.3" fill="none"><g transform="translate(0,0)"><path d="M6.9,-8.4 Q6.9,-4.6 3.5,-4.6 Q0,-4.6 0,-8.5 Q0,-12.5 3.5,-12.5 Q7,-12.5 6.9,-8.4 L6.2,-3.5 Q5.4,0 2.6,0 Q1,0 0.4,-1.4"/></g></g>
<line x1="495" y1="598.6" x2="510" y2="598.6" stroke-width="1.4"/>
<polyline points="495.2,598.6 489,466.6 443,438.4" stroke-width="1.15"/>
</g>
<g class="cap" font-size="20">
<text x="387" y="870.6" textLength="39.5" lengthAdjust="spacing">Рис.</text>
<text x="441.5" y="870" textLength="26" lengthAdjust="spacing">33.</text>
<text x="484.6" y="869.5" textLength="59.8" lengthAdjust="spacing">Схема</text>
<text x="563" y="868.3" textLength="142.6" lengthAdjust="spacing">расположения</text>
<text x="723" y="867.3" textLength="137.5" lengthAdjust="spacing">подшипников.</text>
</g>
</svg>
</body></html>
